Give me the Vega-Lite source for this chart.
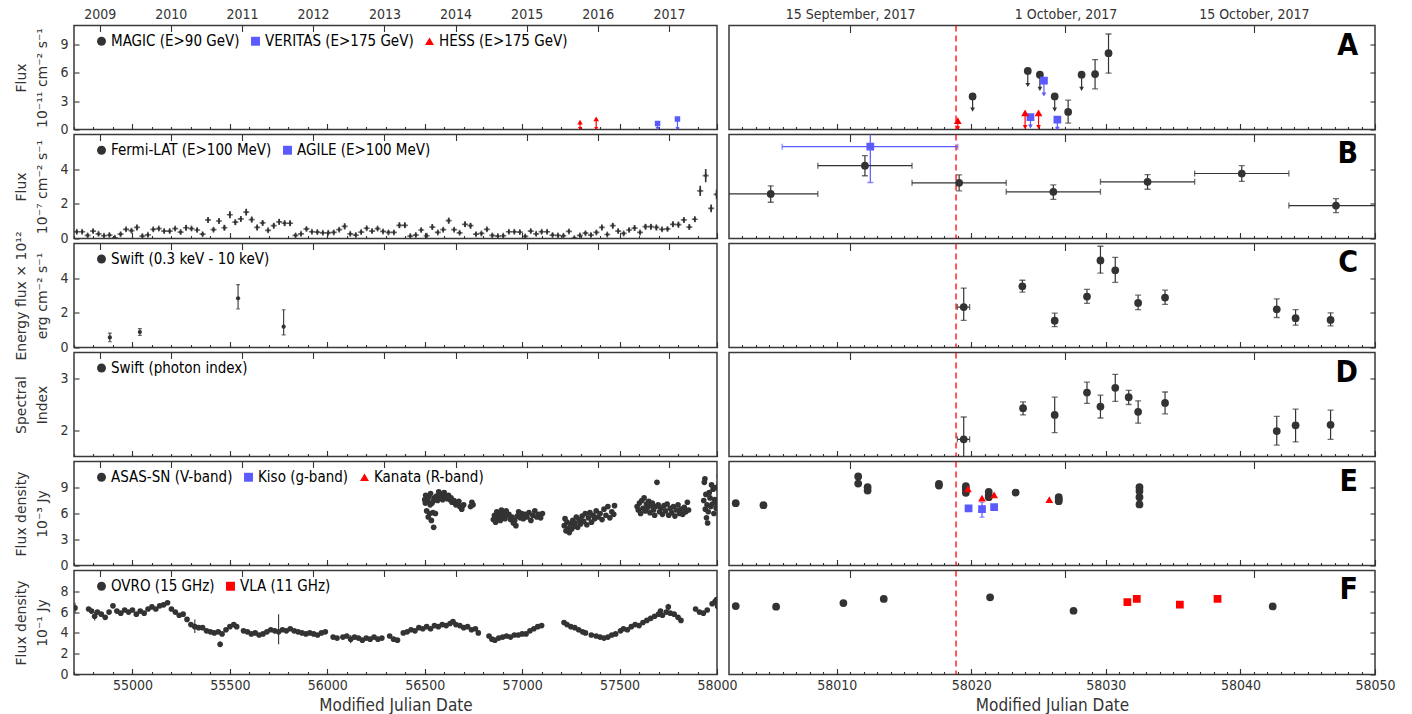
{
"$schema":"https://vega.github.io/schema/vega-lite/v6.json",
"padding":{"left":13,"top":6.5,"right":5,"bottom":3},
"background":"white",
"config":{
 "view":{"stroke":"#3a3a3a","strokeWidth":1.5},
 "axis":{"domain":false,"grid":false,"tickColor":"#333333","tickWidth":1.1,"labelColor":"#333333","labelFont":"DejaVu Sans Condensed","labelFontSize":14,"titleColor":"#333333","titleFont":"DejaVu Sans","titleFontSize":14,"titleFontWeight":"normal","labelFlush":false,"titleLineHeight":21},
 "axisX":{"titleFont":"DejaVu Sans Condensed","titleFontSize":17},
 "legend":{"labelFont":"DejaVu Sans Condensed","labelFontSize":15,"labelLimit":0}
},
"datasets":{
"nu":[{"t":58018.87}],
"A":[
{"s":"MAGIC (E>90 GeV)","t":58020.1,"f":3.5,"lo":2.1,"hi":3.5,"k":"u"},
{"s":"MAGIC (E>90 GeV)","t":58024.2,"f":6.2,"lo":4.7,"hi":6.2,"k":"u"},
{"s":"MAGIC (E>90 GeV)","t":58025.1,"f":5.8,"lo":4.3,"hi":5.8,"k":"u"},
{"s":"MAGIC (E>90 GeV)","t":58026.2,"f":3.5,"lo":2.1,"hi":3.5,"k":"u"},
{"s":"MAGIC (E>90 GeV)","t":58027.2,"f":1.86,"lo":0.68,"hi":3.1,"k":"d"},
{"s":"MAGIC (E>90 GeV)","t":58028.2,"f":5.8,"lo":4.3,"hi":5.8,"k":"u"},
{"s":"MAGIC (E>90 GeV)","t":58029.2,"f":5.86,"lo":4.3,"hi":7.4,"k":"d"},
{"s":"MAGIC (E>90 GeV)","t":58030.2,"f":8.07,"lo":5.96,"hi":10.1,"k":"d"},
{"s":"VERITAS (E>175 GeV)","t":57695,"f":0.64,"lo":0.08,"hi":0.64,"k":"u"},
{"s":"VERITAS (E>175 GeV)","t":57797,"f":1.1,"lo":0.08,"hi":1.1,"k":"u"},
{"s":"VERITAS (E>175 GeV)","t":58024.4,"f":1.32,"lo":0.32,"hi":1.32,"k":"u"},
{"s":"VERITAS (E>175 GeV)","t":58025.4,"f":5.18,"lo":3.7,"hi":5.18,"k":"u"},
{"s":"VERITAS (E>175 GeV)","t":58026.4,"f":1.04,"lo":0.08,"hi":1.04,"k":"u"},
{"s":"HESS (E>175 GeV)","t":57297,"f":0.78,"lo":0.08,"hi":0.78,"k":"u"},
{"s":"HESS (E>175 GeV)","t":57380,"f":1.13,"lo":0.08,"hi":1.13,"k":"u"},
{"s":"HESS (E>175 GeV)","t":58019.0,"f":0.93,"lo":0.14,"hi":0.93,"k":"u"},
{"s":"HESS (E>175 GeV)","t":58024.0,"f":1.75,"lo":0.25,"hi":1.75,"k":"u"},
{"s":"HESS (E>175 GeV)","t":58025.0,"f":1.75,"lo":0.25,"hi":1.75,"k":"u"}
],
"B":[
{"s":"Fermi-LAT (E>100 MeV)","t":54714,"f":0.39,"lo":0.27,"hi":0.51},
{"s":"Fermi-LAT (E>100 MeV)","t":54742,"f":0.39,"lo":0.27,"hi":0.51},
{"s":"Fermi-LAT (E>100 MeV)","t":54770,"f":0.18,"lo":0.06,"hi":0.30},
{"s":"Fermi-LAT (E>100 MeV)","t":54798,"f":0.43,"lo":0.31,"hi":0.55},
{"s":"Fermi-LAT (E>100 MeV)","t":54826,"f":0.27,"lo":0.15,"hi":0.39},
{"s":"Fermi-LAT (E>100 MeV)","t":54854,"f":0.16,"lo":0.04,"hi":0.28},
{"s":"Fermi-LAT (E>100 MeV)","t":54882,"f":0.20,"lo":0.08,"hi":0.32},
{"s":"Fermi-LAT (E>100 MeV)","t":54910,"f":0.04,"lo":0.0,"hi":0.16},
{"s":"Fermi-LAT (E>100 MeV)","t":54939,"f":0.25,"lo":0.13,"hi":0.37},
{"s":"Fermi-LAT (E>100 MeV)","t":54967,"f":0.53,"lo":0.41,"hi":0.65},
{"s":"Fermi-LAT (E>100 MeV)","t":54995,"f":0.45,"lo":0.33,"hi":0.57},
{"s":"Fermi-LAT (E>100 MeV)","t":55023,"f":0.64,"lo":0.48,"hi":0.80},
{"s":"Fermi-LAT (E>100 MeV)","t":55051,"f":0.14,"lo":0.02,"hi":0.26},
{"s":"Fermi-LAT (E>100 MeV)","t":55079,"f":0.21,"lo":0.09,"hi":0.33},
{"s":"Fermi-LAT (E>100 MeV)","t":55107,"f":0.53,"lo":0.41,"hi":0.65},
{"s":"Fermi-LAT (E>100 MeV)","t":55135,"f":0.57,"lo":0.45,"hi":0.69},
{"s":"Fermi-LAT (E>100 MeV)","t":55163,"f":0.43,"lo":0.31,"hi":0.55},
{"s":"Fermi-LAT (E>100 MeV)","t":55191,"f":0.43,"lo":0.31,"hi":0.55},
{"s":"Fermi-LAT (E>100 MeV)","t":55219,"f":0.57,"lo":0.45,"hi":0.69},
{"s":"Fermi-LAT (E>100 MeV)","t":55247,"f":0.37,"lo":0.25,"hi":0.49},
{"s":"Fermi-LAT (E>100 MeV)","t":55275,"f":0.62,"lo":0.46,"hi":0.78},
{"s":"Fermi-LAT (E>100 MeV)","t":55303,"f":0.57,"lo":0.45,"hi":0.69},
{"s":"Fermi-LAT (E>100 MeV)","t":55332,"f":0.49,"lo":0.37,"hi":0.61},
{"s":"Fermi-LAT (E>100 MeV)","t":55360,"f":0.25,"lo":0.13,"hi":0.37},
{"s":"Fermi-LAT (E>100 MeV)","t":55388,"f":1.07,"lo":0.91,"hi":1.23},
{"s":"Fermi-LAT (E>100 MeV)","t":55416,"f":0.51,"lo":0.39,"hi":0.63},
{"s":"Fermi-LAT (E>100 MeV)","t":55444,"f":1.01,"lo":0.85,"hi":1.17},
{"s":"Fermi-LAT (E>100 MeV)","t":55472,"f":0.62,"lo":0.46,"hi":0.78},
{"s":"Fermi-LAT (E>100 MeV)","t":55500,"f":1.37,"lo":1.17,"hi":1.57},
{"s":"Fermi-LAT (E>100 MeV)","t":55528,"f":0.94,"lo":0.78,"hi":1.10},
{"s":"Fermi-LAT (E>100 MeV)","t":55556,"f":1.13,"lo":0.97,"hi":1.29},
{"s":"Fermi-LAT (E>100 MeV)","t":55584,"f":1.52,"lo":1.32,"hi":1.72},
{"s":"Fermi-LAT (E>100 MeV)","t":55612,"f":1.09,"lo":0.93,"hi":1.25},
{"s":"Fermi-LAT (E>100 MeV)","t":55640,"f":0.64,"lo":0.48,"hi":0.80},
{"s":"Fermi-LAT (E>100 MeV)","t":55668,"f":0.90,"lo":0.74,"hi":1.06},
{"s":"Fermi-LAT (E>100 MeV)","t":55696,"f":0.47,"lo":0.35,"hi":0.59},
{"s":"Fermi-LAT (E>100 MeV)","t":55725,"f":0.74,"lo":0.58,"hi":0.90},
{"s":"Fermi-LAT (E>100 MeV)","t":55753,"f":0.96,"lo":0.80,"hi":1.12},
{"s":"Fermi-LAT (E>100 MeV)","t":55781,"f":0.88,"lo":0.72,"hi":1.04},
{"s":"Fermi-LAT (E>100 MeV)","t":55809,"f":0.88,"lo":0.72,"hi":1.04},
{"s":"Fermi-LAT (E>100 MeV)","t":55837,"f":0.18,"lo":0.06,"hi":0.30},
{"s":"Fermi-LAT (E>100 MeV)","t":55865,"f":0.27,"lo":0.15,"hi":0.39},
{"s":"Fermi-LAT (E>100 MeV)","t":55893,"f":0.55,"lo":0.43,"hi":0.67},
{"s":"Fermi-LAT (E>100 MeV)","t":55921,"f":0.39,"lo":0.27,"hi":0.51},
{"s":"Fermi-LAT (E>100 MeV)","t":55949,"f":0.37,"lo":0.25,"hi":0.49},
{"s":"Fermi-LAT (E>100 MeV)","t":55977,"f":0.33,"lo":0.21,"hi":0.45},
{"s":"Fermi-LAT (E>100 MeV)","t":56005,"f":0.33,"lo":0.21,"hi":0.45},
{"s":"Fermi-LAT (E>100 MeV)","t":56033,"f":0.35,"lo":0.23,"hi":0.47},
{"s":"Fermi-LAT (E>100 MeV)","t":56061,"f":0.51,"lo":0.39,"hi":0.63},
{"s":"Fermi-LAT (E>100 MeV)","t":56089,"f":0.70,"lo":0.54,"hi":0.86},
{"s":"Fermi-LAT (E>100 MeV)","t":56118,"f":0.27,"lo":0.15,"hi":0.39},
{"s":"Fermi-LAT (E>100 MeV)","t":56146,"f":0.20,"lo":0.08,"hi":0.32},
{"s":"Fermi-LAT (E>100 MeV)","t":56174,"f":0.37,"lo":0.25,"hi":0.49},
{"s":"Fermi-LAT (E>100 MeV)","t":56202,"f":0.59,"lo":0.47,"hi":0.71},
{"s":"Fermi-LAT (E>100 MeV)","t":56230,"f":0.43,"lo":0.31,"hi":0.55},
{"s":"Fermi-LAT (E>100 MeV)","t":56258,"f":0.57,"lo":0.45,"hi":0.69},
{"s":"Fermi-LAT (E>100 MeV)","t":56286,"f":0.41,"lo":0.29,"hi":0.53},
{"s":"Fermi-LAT (E>100 MeV)","t":56314,"f":0.35,"lo":0.23,"hi":0.47},
{"s":"Fermi-LAT (E>100 MeV)","t":56342,"f":0.35,"lo":0.23,"hi":0.47},
{"s":"Fermi-LAT (E>100 MeV)","t":56370,"f":0.76,"lo":0.60,"hi":0.92},
{"s":"Fermi-LAT (E>100 MeV)","t":56398,"f":0.76,"lo":0.60,"hi":0.92},
{"s":"Fermi-LAT (E>100 MeV)","t":56426,"f":0.14,"lo":0.02,"hi":0.26},
{"s":"Fermi-LAT (E>100 MeV)","t":56454,"f":0.20,"lo":0.08,"hi":0.32},
{"s":"Fermi-LAT (E>100 MeV)","t":56482,"f":0.49,"lo":0.37,"hi":0.61},
{"s":"Fermi-LAT (E>100 MeV)","t":56510,"f":0.16,"lo":0.04,"hi":0.28},
{"s":"Fermi-LAT (E>100 MeV)","t":56539,"f":0.66,"lo":0.50,"hi":0.82},
{"s":"Fermi-LAT (E>100 MeV)","t":56567,"f":0.35,"lo":0.23,"hi":0.47},
{"s":"Fermi-LAT (E>100 MeV)","t":56595,"f":0.51,"lo":0.39,"hi":0.63},
{"s":"Fermi-LAT (E>100 MeV)","t":56623,"f":1.03,"lo":0.87,"hi":1.19},
{"s":"Fermi-LAT (E>100 MeV)","t":56651,"f":0.51,"lo":0.39,"hi":0.63},
{"s":"Fermi-LAT (E>100 MeV)","t":56679,"f":0.33,"lo":0.21,"hi":0.45},
{"s":"Fermi-LAT (E>100 MeV)","t":56707,"f":0.82,"lo":0.66,"hi":0.98},
{"s":"Fermi-LAT (E>100 MeV)","t":56735,"f":0.74,"lo":0.58,"hi":0.90},
{"s":"Fermi-LAT (E>100 MeV)","t":56763,"f":0.25,"lo":0.13,"hi":0.37},
{"s":"Fermi-LAT (E>100 MeV)","t":56791,"f":0.29,"lo":0.17,"hi":0.41},
{"s":"Fermi-LAT (E>100 MeV)","t":56819,"f":0.53,"lo":0.41,"hi":0.65},
{"s":"Fermi-LAT (E>100 MeV)","t":56847,"f":0.18,"lo":0.06,"hi":0.30},
{"s":"Fermi-LAT (E>100 MeV)","t":56875,"f":0.14,"lo":0.02,"hi":0.26},
{"s":"Fermi-LAT (E>100 MeV)","t":56903,"f":0.16,"lo":0.04,"hi":0.28},
{"s":"Fermi-LAT (E>100 MeV)","t":56932,"f":0.39,"lo":0.27,"hi":0.51},
{"s":"Fermi-LAT (E>100 MeV)","t":56960,"f":0.39,"lo":0.27,"hi":0.51},
{"s":"Fermi-LAT (E>100 MeV)","t":56988,"f":0.37,"lo":0.25,"hi":0.49},
{"s":"Fermi-LAT (E>100 MeV)","t":57016,"f":0.12,"lo":0.0,"hi":0.24},
{"s":"Fermi-LAT (E>100 MeV)","t":57044,"f":0.43,"lo":0.31,"hi":0.55},
{"s":"Fermi-LAT (E>100 MeV)","t":57072,"f":0.27,"lo":0.15,"hi":0.39},
{"s":"Fermi-LAT (E>100 MeV)","t":57100,"f":0.39,"lo":0.27,"hi":0.51},
{"s":"Fermi-LAT (E>100 MeV)","t":57128,"f":0.39,"lo":0.27,"hi":0.51},
{"s":"Fermi-LAT (E>100 MeV)","t":57156,"f":0.20,"lo":0.08,"hi":0.32},
{"s":"Fermi-LAT (E>100 MeV)","t":57184,"f":0.18,"lo":0.06,"hi":0.30},
{"s":"Fermi-LAT (E>100 MeV)","t":57212,"f":0.16,"lo":0.04,"hi":0.28},
{"s":"Fermi-LAT (E>100 MeV)","t":57240,"f":0.41,"lo":0.29,"hi":0.53},
{"s":"Fermi-LAT (E>100 MeV)","t":57268,"f":0.02,"lo":0.0,"hi":0.14},
{"s":"Fermi-LAT (E>100 MeV)","t":57296,"f":0.18,"lo":0.06,"hi":0.30},
{"s":"Fermi-LAT (E>100 MeV)","t":57325,"f":0.31,"lo":0.19,"hi":0.43},
{"s":"Fermi-LAT (E>100 MeV)","t":57353,"f":0.20,"lo":0.08,"hi":0.32},
{"s":"Fermi-LAT (E>100 MeV)","t":57381,"f":0.35,"lo":0.23,"hi":0.47},
{"s":"Fermi-LAT (E>100 MeV)","t":57409,"f":0.64,"lo":0.48,"hi":0.80},
{"s":"Fermi-LAT (E>100 MeV)","t":57437,"f":0.23,"lo":0.11,"hi":0.35},
{"s":"Fermi-LAT (E>100 MeV)","t":57465,"f":0.74,"lo":0.58,"hi":0.90},
{"s":"Fermi-LAT (E>100 MeV)","t":57493,"f":0.43,"lo":0.31,"hi":0.55},
{"s":"Fermi-LAT (E>100 MeV)","t":57521,"f":0.29,"lo":0.17,"hi":0.41},
{"s":"Fermi-LAT (E>100 MeV)","t":57549,"f":0.49,"lo":0.37,"hi":0.61},
{"s":"Fermi-LAT (E>100 MeV)","t":57577,"f":0.60,"lo":0.44,"hi":0.76},
{"s":"Fermi-LAT (E>100 MeV)","t":57605,"f":0.35,"lo":0.23,"hi":0.47},
{"s":"Fermi-LAT (E>100 MeV)","t":57633,"f":0.68,"lo":0.52,"hi":0.84},
{"s":"Fermi-LAT (E>100 MeV)","t":57661,"f":0.68,"lo":0.52,"hi":0.84},
{"s":"Fermi-LAT (E>100 MeV)","t":57689,"f":0.64,"lo":0.48,"hi":0.80},
{"s":"Fermi-LAT (E>100 MeV)","t":57718,"f":0.53,"lo":0.41,"hi":0.65},
{"s":"Fermi-LAT (E>100 MeV)","t":57746,"f":0.55,"lo":0.43,"hi":0.67},
{"s":"Fermi-LAT (E>100 MeV)","t":57774,"f":0.82,"lo":0.66,"hi":0.98},
{"s":"Fermi-LAT (E>100 MeV)","t":57802,"f":0.80,"lo":0.64,"hi":0.96},
{"s":"Fermi-LAT (E>100 MeV)","t":57830,"f":1.07,"lo":0.91,"hi":1.23},
{"s":"Fermi-LAT (E>100 MeV)","t":57858,"f":0.66,"lo":0.50,"hi":0.82},
{"s":"Fermi-LAT (E>100 MeV)","t":57886,"f":1.11,"lo":0.95,"hi":1.27},
{"s":"Fermi-LAT (E>100 MeV)","t":57914,"f":2.75,"lo":2.45,"hi":3.05},
{"s":"Fermi-LAT (E>100 MeV)","t":57942,"f":3.63,"lo":3.25,"hi":4.01},
{"s":"Fermi-LAT (E>100 MeV)","t":57970,"f":1.74,"lo":1.52,"hi":1.96},
{"s":"Fermi-LAT (E>100 MeV)","t":57998,"f":2.54,"lo":2.26,"hi":2.82},
{"s":"Fermi-LAT (E>100 MeV)","t":58005.1,"f":2.57,"lo":2.09,"hi":3.04,"t0":58001.6,"t1":58008.6},
{"s":"Fermi-LAT (E>100 MeV)","t":58012.1,"f":4.2,"lo":3.62,"hi":4.78,"t0":58008.6,"t1":58015.6},
{"s":"Fermi-LAT (E>100 MeV)","t":58019.1,"f":3.21,"lo":2.75,"hi":3.67,"t0":58015.6,"t1":58022.6},
{"s":"Fermi-LAT (E>100 MeV)","t":58026.1,"f":2.69,"lo":2.26,"hi":3.09,"t0":58022.6,"t1":58029.6},
{"s":"Fermi-LAT (E>100 MeV)","t":58033.1,"f":3.27,"lo":2.84,"hi":3.69,"t0":58029.6,"t1":58036.6},
{"s":"Fermi-LAT (E>100 MeV)","t":58040.1,"f":3.75,"lo":3.29,"hi":4.2,"t0":58036.6,"t1":58043.6},
{"s":"Fermi-LAT (E>100 MeV)","t":58047.1,"f":1.9,"lo":1.49,"hi":2.3,"t0":58043.6,"t1":58050.6},
{"s":"AGILE (E>100 MeV)","t":58012.5,"f":5.3,"lo":3.23,"hi":6.05,"t0":58005.95,"t1":58019.0}
],
"C":[
{"s":"Swift (0.3 keV - 10 keV)","t":54884,"f":0.58,"lo":0.33,"hi":0.83},
{"s":"Swift (0.3 keV - 10 keV)","t":55038,"f":0.89,"lo":0.69,"hi":1.09},
{"s":"Swift (0.3 keV - 10 keV)","t":55542,"f":2.84,"lo":2.22,"hi":3.63},
{"s":"Swift (0.3 keV - 10 keV)","t":55776,"f":1.2,"lo":0.73,"hi":2.18},
{"s":"Swift (0.3 keV - 10 keV)","t":58019.44,"f":2.33,"lo":1.57,"hi":3.43,"t0":58018.97,"t1":58019.88},
{"s":"Swift (0.3 keV - 10 keV)","t":58023.8,"f":3.53,"lo":3.2,"hi":3.88},
{"s":"Swift (0.3 keV - 10 keV)","t":58026.2,"f":1.55,"lo":1.2,"hi":1.98},
{"s":"Swift (0.3 keV - 10 keV)","t":58028.6,"f":2.94,"lo":2.55,"hi":3.35},
{"s":"Swift (0.3 keV - 10 keV)","t":58029.6,"f":5.02,"lo":4.29,"hi":5.84},
{"s":"Swift (0.3 keV - 10 keV)","t":58030.7,"f":4.45,"lo":3.76,"hi":5.2},
{"s":"Swift (0.3 keV - 10 keV)","t":58032.4,"f":2.57,"lo":2.18,"hi":3.02},
{"s":"Swift (0.3 keV - 10 keV)","t":58034.4,"f":2.88,"lo":2.49,"hi":3.31},
{"s":"Swift (0.3 keV - 10 keV)","t":58042.7,"f":2.2,"lo":1.73,"hi":2.8},
{"s":"Swift (0.3 keV - 10 keV)","t":58044.1,"f":1.69,"lo":1.29,"hi":2.18},
{"s":"Swift (0.3 keV - 10 keV)","t":58046.7,"f":1.59,"lo":1.25,"hi":2.0}
],
"D":[
{"s":"Swift (photon index)","t":58019.44,"f":1.83,"lo":1.49,"hi":2.26,"t0":58018.97,"t1":58019.88},
{"s":"Swift (photon index)","t":58023.85,"f":2.43,"lo":2.3,"hi":2.55},
{"s":"Swift (photon index)","t":58026.2,"f":2.3,"lo":1.96,"hi":2.64},
{"s":"Swift (photon index)","t":58028.6,"f":2.73,"lo":2.52,"hi":2.93},
{"s":"Swift (photon index)","t":58029.6,"f":2.46,"lo":2.24,"hi":2.68},
{"s":"Swift (photon index)","t":58030.7,"f":2.82,"lo":2.56,"hi":3.08},
{"s":"Swift (photon index)","t":58031.7,"f":2.64,"lo":2.5,"hi":2.77},
{"s":"Swift (photon index)","t":58032.4,"f":2.36,"lo":2.14,"hi":2.57},
{"s":"Swift (photon index)","t":58034.4,"f":2.53,"lo":2.32,"hi":2.74},
{"s":"Swift (photon index)","t":58042.7,"f":1.99,"lo":1.72,"hi":2.27},
{"s":"Swift (photon index)","t":58044.1,"f":2.1,"lo":1.78,"hi":2.41},
{"s":"Swift (photon index)","t":58046.7,"f":2.11,"lo":1.83,"hi":2.39}
],
"E":[
{"s":"ASAS-SN (V-band)","t":56500,"f":7.6},{"s":"ASAS-SN (V-band)","t":56503,"f":7.2},{"s":"ASAS-SN (V-band)","t":56505,"f":8.1},{"s":"ASAS-SN (V-band)","t":56510,"f":6.3},{"s":"ASAS-SN (V-band)","t":56512,"f":7.9},{"s":"ASAS-SN (V-band)","t":56515,"f":7.4},{"s":"ASAS-SN (V-band)","t":56518,"f":5.6},{"s":"ASAS-SN (V-band)","t":56522,"f":7.9},{"s":"ASAS-SN (V-band)","t":56525,"f":6.0},{"s":"ASAS-SN (V-band)","t":56528,"f":7.0},{"s":"ASAS-SN (V-band)","t":56530,"f":8.3},{"s":"ASAS-SN (V-band)","t":56534,"f":5.2},{"s":"ASAS-SN (V-band)","t":56538,"f":7.2},{"s":"ASAS-SN (V-band)","t":56542,"f":6.1},{"s":"ASAS-SN (V-band)","t":56545,"f":7.5},{"s":"ASAS-SN (V-band)","t":56546,"f":4.4},{"s":"ASAS-SN (V-band)","t":56550,"f":7.8},{"s":"ASAS-SN (V-band)","t":56555,"f":6.0},{"s":"ASAS-SN (V-band)","t":56560,"f":8.0},{"s":"ASAS-SN (V-band)","t":56566,"f":7.5},{"s":"ASAS-SN (V-band)","t":56572,"f":8.5},{"s":"ASAS-SN (V-band)","t":56575,"f":8.0},{"s":"ASAS-SN (V-band)","t":56578,"f":7.8},{"s":"ASAS-SN (V-band)","t":56585,"f":8.2},{"s":"ASAS-SN (V-band)","t":56592,"f":7.6},{"s":"ASAS-SN (V-band)","t":56595,"f":8.3},{"s":"ASAS-SN (V-band)","t":56600,"f":8.4},{"s":"ASAS-SN (V-band)","t":56608,"f":8.0},{"s":"ASAS-SN (V-band)","t":56612,"f":7.9},{"s":"ASAS-SN (V-band)","t":56615,"f":7.7},{"s":"ASAS-SN (V-band)","t":56622,"f":8.1},{"s":"ASAS-SN (V-band)","t":56630,"f":7.6},{"s":"ASAS-SN (V-band)","t":56635,"f":7.8},{"s":"ASAS-SN (V-band)","t":56640,"f":7.3},{"s":"ASAS-SN (V-band)","t":56650,"f":7.5},{"s":"ASAS-SN (V-band)","t":56655,"f":7.2},{"s":"ASAS-SN (V-band)","t":56660,"f":7.0},{"s":"ASAS-SN (V-band)","t":56670,"f":7.2},{"s":"ASAS-SN (V-band)","t":56675,"f":7.4},{"s":"ASAS-SN (V-band)","t":56680,"f":6.8},{"s":"ASAS-SN (V-band)","t":56690,"f":6.5},{"s":"ASAS-SN (V-band)","t":56695,"f":6.9},{"s":"ASAS-SN (V-band)","t":56700,"f":7.0},{"s":"ASAS-SN (V-band)","t":56735,"f":6.8},{"s":"ASAS-SN (V-band)","t":56742,"f":7.3},{"s":"ASAS-SN (V-band)","t":56748,"f":7.0},
{"s":"ASAS-SN (V-band)","t":56852,"f":5.3},{"s":"ASAS-SN (V-band)","t":56858,"f":5.8},{"s":"ASAS-SN (V-band)","t":56864,"f":5.0},{"s":"ASAS-SN (V-band)","t":56870,"f":6.2},{"s":"ASAS-SN (V-band)","t":56876,"f":5.5},{"s":"ASAS-SN (V-band)","t":56882,"f":6.0},{"s":"ASAS-SN (V-band)","t":56888,"f":5.2},{"s":"ASAS-SN (V-band)","t":56894,"f":6.4},{"s":"ASAS-SN (V-band)","t":56900,"f":5.7},{"s":"ASAS-SN (V-band)","t":56906,"f":6.1},{"s":"ASAS-SN (V-band)","t":56912,"f":5.4},{"s":"ASAS-SN (V-band)","t":56918,"f":6.3},{"s":"ASAS-SN (V-band)","t":56925,"f":5.8},{"s":"ASAS-SN (V-band)","t":56932,"f":5.9},{"s":"ASAS-SN (V-band)","t":56940,"f":5.3},{"s":"ASAS-SN (V-band)","t":56948,"f":5.6},{"s":"ASAS-SN (V-band)","t":56955,"f":4.9},{"s":"ASAS-SN (V-band)","t":56962,"f":5.2},{"s":"ASAS-SN (V-band)","t":56968,"f":4.6},{"s":"ASAS-SN (V-band)","t":56975,"f":5.7},{"s":"ASAS-SN (V-band)","t":56982,"f":6.2},{"s":"ASAS-SN (V-band)","t":56990,"f":5.5},{"s":"ASAS-SN (V-band)","t":56998,"f":6.0},{"s":"ASAS-SN (V-band)","t":57006,"f":5.4},{"s":"ASAS-SN (V-band)","t":57015,"f":5.9},{"s":"ASAS-SN (V-band)","t":57025,"f":5.6},{"s":"ASAS-SN (V-band)","t":57035,"f":6.1},{"s":"ASAS-SN (V-band)","t":57045,"f":5.2},{"s":"ASAS-SN (V-band)","t":57055,"f":5.8},{"s":"ASAS-SN (V-band)","t":57065,"f":6.3},{"s":"ASAS-SN (V-band)","t":57075,"f":5.6},{"s":"ASAS-SN (V-band)","t":57085,"f":5.9},{"s":"ASAS-SN (V-band)","t":57095,"f":5.5},{"s":"ASAS-SN (V-band)","t":57104,"f":6.0},
{"s":"ASAS-SN (V-band)","t":57216,"f":4.6},{"s":"ASAS-SN (V-band)","t":57220,"f":5.4},{"s":"ASAS-SN (V-band)","t":57225,"f":4.0},{"s":"ASAS-SN (V-band)","t":57230,"f":5.0},{"s":"ASAS-SN (V-band)","t":57236,"f":4.3},{"s":"ASAS-SN (V-band)","t":57242,"f":3.8},{"s":"ASAS-SN (V-band)","t":57248,"f":4.8},{"s":"ASAS-SN (V-band)","t":57254,"f":4.2},{"s":"ASAS-SN (V-band)","t":57260,"f":5.2},{"s":"ASAS-SN (V-band)","t":57266,"f":4.5},{"s":"ASAS-SN (V-band)","t":57272,"f":4.9},{"s":"ASAS-SN (V-band)","t":57278,"f":5.6},{"s":"ASAS-SN (V-band)","t":57285,"f":4.4},{"s":"ASAS-SN (V-band)","t":57292,"f":5.3},{"s":"ASAS-SN (V-band)","t":57300,"f":4.8},{"s":"ASAS-SN (V-band)","t":57308,"f":5.7},{"s":"ASAS-SN (V-band)","t":57316,"f":5.1},{"s":"ASAS-SN (V-band)","t":57324,"f":6.0},{"s":"ASAS-SN (V-band)","t":57332,"f":4.7},{"s":"ASAS-SN (V-band)","t":57340,"f":5.5},{"s":"ASAS-SN (V-band)","t":57348,"f":6.1},{"s":"ASAS-SN (V-band)","t":57356,"f":5.0},{"s":"ASAS-SN (V-band)","t":57364,"f":5.8},{"s":"ASAS-SN (V-band)","t":57372,"f":5.4},{"s":"ASAS-SN (V-band)","t":57380,"f":6.3},{"s":"ASAS-SN (V-band)","t":57390,"f":5.6},{"s":"ASAS-SN (V-band)","t":57400,"f":6.0},{"s":"ASAS-SN (V-band)","t":57410,"f":5.3},{"s":"ASAS-SN (V-band)","t":57420,"f":6.5},{"s":"ASAS-SN (V-band)","t":57430,"f":5.8},{"s":"ASAS-SN (V-band)","t":57440,"f":6.8},{"s":"ASAS-SN (V-band)","t":57450,"f":5.5},{"s":"ASAS-SN (V-band)","t":57460,"f":6.2},{"s":"ASAS-SN (V-band)","t":57470,"f":5.9},{"s":"ASAS-SN (V-band)","t":57474,"f":6.9},
{"s":"ASAS-SN (V-band)","t":57590,"f":6.8},{"s":"ASAS-SN (V-band)","t":57596,"f":6.4},{"s":"ASAS-SN (V-band)","t":57602,"f":7.2},{"s":"ASAS-SN (V-band)","t":57608,"f":6.0},{"s":"ASAS-SN (V-band)","t":57614,"f":7.5},{"s":"ASAS-SN (V-band)","t":57620,"f":6.6},{"s":"ASAS-SN (V-band)","t":57626,"f":7.8},{"s":"ASAS-SN (V-band)","t":57632,"f":6.3},{"s":"ASAS-SN (V-band)","t":57638,"f":7.1},{"s":"ASAS-SN (V-band)","t":57644,"f":6.7},{"s":"ASAS-SN (V-band)","t":57650,"f":7.4},{"s":"ASAS-SN (V-band)","t":57656,"f":6.1},{"s":"ASAS-SN (V-band)","t":57662,"f":6.9},{"s":"ASAS-SN (V-band)","t":57668,"f":7.2},{"s":"ASAS-SN (V-band)","t":57674,"f":6.4},{"s":"ASAS-SN (V-band)","t":57680,"f":5.8},{"s":"ASAS-SN (V-band)","t":57686,"f":6.8},{"s":"ASAS-SN (V-band)","t":57692,"f":9.6},{"s":"ASAS-SN (V-band)","t":57698,"f":7.0},{"s":"ASAS-SN (V-band)","t":57705,"f":6.2},{"s":"ASAS-SN (V-band)","t":57712,"f":6.6},{"s":"ASAS-SN (V-band)","t":57720,"f":5.9},{"s":"ASAS-SN (V-band)","t":57728,"f":6.9},{"s":"ASAS-SN (V-band)","t":57736,"f":6.3},{"s":"ASAS-SN (V-band)","t":57744,"f":7.1},{"s":"ASAS-SN (V-band)","t":57752,"f":5.8},{"s":"ASAS-SN (V-band)","t":57760,"f":6.6},{"s":"ASAS-SN (V-band)","t":57768,"f":6.1},{"s":"ASAS-SN (V-band)","t":57776,"f":6.8},{"s":"ASAS-SN (V-band)","t":57784,"f":5.7},{"s":"ASAS-SN (V-band)","t":57792,"f":6.4},{"s":"ASAS-SN (V-band)","t":57800,"f":7.0},{"s":"ASAS-SN (V-band)","t":57808,"f":6.0},{"s":"ASAS-SN (V-band)","t":57816,"f":6.5},{"s":"ASAS-SN (V-band)","t":57824,"f":5.9},{"s":"ASAS-SN (V-band)","t":57832,"f":6.7},{"s":"ASAS-SN (V-band)","t":57840,"f":6.2},{"s":"ASAS-SN (V-band)","t":57848,"f":7.3},{"s":"ASAS-SN (V-band)","t":57854,"f":6.4},
{"s":"ASAS-SN (V-band)","t":57932,"f":7.5},{"s":"ASAS-SN (V-band)","t":57935,"f":9.6},{"s":"ASAS-SN (V-band)","t":57938,"f":10.0},{"s":"ASAS-SN (V-band)","t":57940,"f":6.5},{"s":"ASAS-SN (V-band)","t":57943,"f":8.2},{"s":"ASAS-SN (V-band)","t":57946,"f":5.5},{"s":"ASAS-SN (V-band)","t":57949,"f":7.0},{"s":"ASAS-SN (V-band)","t":57952,"f":4.9},{"s":"ASAS-SN (V-band)","t":57955,"f":6.2},{"s":"ASAS-SN (V-band)","t":57960,"f":8.4},{"s":"ASAS-SN (V-band)","t":57964,"f":7.8},{"s":"ASAS-SN (V-band)","t":57968,"f":6.8},{"s":"ASAS-SN (V-band)","t":57972,"f":9.3},{"s":"ASAS-SN (V-band)","t":57976,"f":7.1},{"s":"ASAS-SN (V-band)","t":57980,"f":8.8},{"s":"ASAS-SN (V-band)","t":57984,"f":6.0},{"s":"ASAS-SN (V-band)","t":57988,"f":7.6},{"s":"ASAS-SN (V-band)","t":57992,"f":9.0},{"s":"ASAS-SN (V-band)","t":57996,"f":6.6},{"s":"ASAS-SN (V-band)","t":57999,"f":7.3},
{"s":"ASAS-SN (V-band)","t":58002.5,"f":7.19},{"s":"ASAS-SN (V-band)","t":58004.56,"f":6.96},{"s":"ASAS-SN (V-band)","t":58011.6,"f":10.27},{"s":"ASAS-SN (V-band)","t":58011.6,"f":9.46},{"s":"ASAS-SN (V-band)","t":58012.3,"f":9.04},{"s":"ASAS-SN (V-band)","t":58012.3,"f":8.65},{"s":"ASAS-SN (V-band)","t":58017.6,"f":9.42},{"s":"ASAS-SN (V-band)","t":58017.6,"f":9.23},{"s":"ASAS-SN (V-band)","t":58019.6,"f":9.15},{"s":"ASAS-SN (V-band)","t":58019.6,"f":8.8},{"s":"ASAS-SN (V-band)","t":58019.6,"f":8.38},{"s":"ASAS-SN (V-band)","t":58021.3,"f":8.5},{"s":"ASAS-SN (V-band)","t":58021.3,"f":8.08},{"s":"ASAS-SN (V-band)","t":58021.3,"f":7.88},{"s":"ASAS-SN (V-band)","t":58023.3,"f":8.42},{"s":"ASAS-SN (V-band)","t":58026.5,"f":7.88},{"s":"ASAS-SN (V-band)","t":58026.5,"f":7.62},{"s":"ASAS-SN (V-band)","t":58026.5,"f":7.42},{"s":"ASAS-SN (V-band)","t":58032.5,"f":9.04},{"s":"ASAS-SN (V-band)","t":58032.5,"f":8.6},{"s":"ASAS-SN (V-band)","t":58032.5,"f":7.88},{"s":"ASAS-SN (V-band)","t":58032.5,"f":7.04},
{"s":"Kiso (g-band)","t":58019.8,"f":6.6},{"s":"Kiso (g-band)","t":58020.8,"f":6.5,"lo":5.58,"hi":7.3},{"s":"Kiso (g-band)","t":58021.7,"f":6.73},
{"s":"Kanata (R-band)","t":58019.75,"f":8.85},{"s":"Kanata (R-band)","t":58020.8,"f":7.77},{"s":"Kanata (R-band)","t":58021.7,"f":8.15},{"s":"Kanata (R-band)","t":58025.8,"f":7.6}
],
"F":[
{"s":"OVRO (15 GHz)","t":54705,"f":6.4,"lo":5.9,"hi":6.9},{"s":"OVRO (15 GHz)","t":54775,"f":6.3},{"s":"OVRO (15 GHz)","t":54790,"f":6.1},{"s":"OVRO (15 GHz)","t":54806,"f":5.6,"lo":5.2,"hi":6.0},{"s":"OVRO (15 GHz)","t":54820,"f":6.0},{"s":"OVRO (15 GHz)","t":54840,"f":5.8},{"s":"OVRO (15 GHz)","t":54860,"f":5.5},{"s":"OVRO (15 GHz)","t":54880,"f":6.0},{"s":"OVRO (15 GHz)","t":54900,"f":6.6},{"s":"OVRO (15 GHz)","t":54920,"f":6.1},{"s":"OVRO (15 GHz)","t":54940,"f":5.9},{"s":"OVRO (15 GHz)","t":54960,"f":6.2},{"s":"OVRO (15 GHz)","t":54980,"f":6.0},{"s":"OVRO (15 GHz)","t":55000,"f":6.2},{"s":"OVRO (15 GHz)","t":55020,"f":5.8},{"s":"OVRO (15 GHz)","t":55040,"f":6.1},{"s":"OVRO (15 GHz)","t":55060,"f":5.9},{"s":"OVRO (15 GHz)","t":55080,"f":6.3},{"s":"OVRO (15 GHz)","t":55100,"f":6.5},{"s":"OVRO (15 GHz)","t":55120,"f":6.3},{"s":"OVRO (15 GHz)","t":55140,"f":6.6},{"s":"OVRO (15 GHz)","t":55160,"f":6.7},{"s":"OVRO (15 GHz)","t":55180,"f":6.9},{"s":"OVRO (15 GHz)","t":55200,"f":6.3},{"s":"OVRO (15 GHz)","t":55220,"f":6.0},{"s":"OVRO (15 GHz)","t":55240,"f":5.7},{"s":"OVRO (15 GHz)","t":55260,"f":5.8},{"s":"OVRO (15 GHz)","t":55280,"f":5.3},{"s":"OVRO (15 GHz)","t":55300,"f":4.8},{"s":"OVRO (15 GHz)","t":55320,"f":4.6,"lo":4.0,"hi":5.3},{"s":"OVRO (15 GHz)","t":55340,"f":4.5},{"s":"OVRO (15 GHz)","t":55360,"f":4.5},{"s":"OVRO (15 GHz)","t":55380,"f":4.2},{"s":"OVRO (15 GHz)","t":55400,"f":4.1},{"s":"OVRO (15 GHz)","t":55420,"f":4.0},{"s":"OVRO (15 GHz)","t":55440,"f":4.1},{"s":"OVRO (15 GHz)","t":55450,"f":2.9,"lo":2.7,"hi":3.2},{"s":"OVRO (15 GHz)","t":55460,"f":3.9},{"s":"OVRO (15 GHz)","t":55480,"f":4.3},{"s":"OVRO (15 GHz)","t":55500,"f":4.6},{"s":"OVRO (15 GHz)","t":55520,"f":4.8},{"s":"OVRO (15 GHz)","t":55535,"f":4.6},{"s":"OVRO (15 GHz)","t":55570,"f":4.2},{"s":"OVRO (15 GHz)","t":55590,"f":4.1},{"s":"OVRO (15 GHz)","t":55610,"f":3.9},{"s":"OVRO (15 GHz)","t":55630,"f":4.0},{"s":"OVRO (15 GHz)","t":55650,"f":3.8},{"s":"OVRO (15 GHz)","t":55670,"f":3.9},{"s":"OVRO (15 GHz)","t":55690,"f":4.1},{"s":"OVRO (15 GHz)","t":55710,"f":4.3},{"s":"OVRO (15 GHz)","t":55730,"f":4.2},{"s":"OVRO (15 GHz)","t":55750,"f":4.1,"lo":2.9,"hi":5.8},{"s":"OVRO (15 GHz)","t":55770,"f":4.3},{"s":"OVRO (15 GHz)","t":55790,"f":4.2},{"s":"OVRO (15 GHz)","t":55810,"f":4.4},{"s":"OVRO (15 GHz)","t":55830,"f":4.2},{"s":"OVRO (15 GHz)","t":55850,"f":4.1},{"s":"OVRO (15 GHz)","t":55870,"f":4.0},{"s":"OVRO (15 GHz)","t":55890,"f":3.9},{"s":"OVRO (15 GHz)","t":55910,"f":4.0},{"s":"OVRO (15 GHz)","t":55930,"f":3.9},{"s":"OVRO (15 GHz)","t":55950,"f":3.8},{"s":"OVRO (15 GHz)","t":55970,"f":4.0},{"s":"OVRO (15 GHz)","t":55990,"f":4.1},{"s":"OVRO (15 GHz)","t":56030,"f":3.6},{"s":"OVRO (15 GHz)","t":56050,"f":3.5},{"s":"OVRO (15 GHz)","t":56080,"f":3.6},{"s":"OVRO (15 GHz)","t":56100,"f":3.7},{"s":"OVRO (15 GHz)","t":56120,"f":3.4,"lo":3.0,"hi":3.8},{"s":"OVRO (15 GHz)","t":56140,"f":3.6},{"s":"OVRO (15 GHz)","t":56160,"f":3.5},{"s":"OVRO (15 GHz)","t":56180,"f":3.3},{"s":"OVRO (15 GHz)","t":56200,"f":3.5},{"s":"OVRO (15 GHz)","t":56220,"f":3.4},{"s":"OVRO (15 GHz)","t":56240,"f":3.6},{"s":"OVRO (15 GHz)","t":56260,"f":3.4},{"s":"OVRO (15 GHz)","t":56280,"f":3.5},{"s":"OVRO (15 GHz)","t":56320,"f":3.7},{"s":"OVRO (15 GHz)","t":56340,"f":3.4},{"s":"OVRO (15 GHz)","t":56360,"f":3.3},{"s":"OVRO (15 GHz)","t":56390,"f":4.0},{"s":"OVRO (15 GHz)","t":56410,"f":4.1},{"s":"OVRO (15 GHz)","t":56430,"f":4.3},{"s":"OVRO (15 GHz)","t":56450,"f":4.2},{"s":"OVRO (15 GHz)","t":56470,"f":4.5},{"s":"OVRO (15 GHz)","t":56490,"f":4.4},{"s":"OVRO (15 GHz)","t":56510,"f":4.6},{"s":"OVRO (15 GHz)","t":56530,"f":4.4},{"s":"OVRO (15 GHz)","t":56550,"f":4.7},{"s":"OVRO (15 GHz)","t":56570,"f":4.6},{"s":"OVRO (15 GHz)","t":56590,"f":4.8},{"s":"OVRO (15 GHz)","t":56610,"f":4.7},{"s":"OVRO (15 GHz)","t":56630,"f":4.9},{"s":"OVRO (15 GHz)","t":56645,"f":5.1},{"s":"OVRO (15 GHz)","t":56660,"f":4.8},{"s":"OVRO (15 GHz)","t":56680,"f":4.7},{"s":"OVRO (15 GHz)","t":56700,"f":4.5},{"s":"OVRO (15 GHz)","t":56720,"f":4.6},{"s":"OVRO (15 GHz)","t":56740,"f":4.3},{"s":"OVRO (15 GHz)","t":56760,"f":4.4},{"s":"OVRO (15 GHz)","t":56775,"f":4.0},{"s":"OVRO (15 GHz)","t":56830,"f":3.7},{"s":"OVRO (15 GHz)","t":56845,"f":3.4},{"s":"OVRO (15 GHz)","t":56860,"f":3.3},{"s":"OVRO (15 GHz)","t":56880,"f":3.5},{"s":"OVRO (15 GHz)","t":56900,"f":3.6},{"s":"OVRO (15 GHz)","t":56920,"f":3.7},{"s":"OVRO (15 GHz)","t":56940,"f":3.6},{"s":"OVRO (15 GHz)","t":56960,"f":3.8},{"s":"OVRO (15 GHz)","t":56980,"f":3.8},{"s":"OVRO (15 GHz)","t":57000,"f":3.9},{"s":"OVRO (15 GHz)","t":57020,"f":3.9},{"s":"OVRO (15 GHz)","t":57040,"f":4.2},{"s":"OVRO (15 GHz)","t":57060,"f":4.4},{"s":"OVRO (15 GHz)","t":57080,"f":4.6},{"s":"OVRO (15 GHz)","t":57100,"f":4.7},{"s":"OVRO (15 GHz)","t":57215,"f":5.0},{"s":"OVRO (15 GHz)","t":57230,"f":4.8},{"s":"OVRO (15 GHz)","t":57250,"f":4.6},{"s":"OVRO (15 GHz)","t":57270,"f":4.5},{"s":"OVRO (15 GHz)","t":57290,"f":4.3},{"s":"OVRO (15 GHz)","t":57310,"f":4.1},{"s":"OVRO (15 GHz)","t":57325,"f":4.0},{"s":"OVRO (15 GHz)","t":57355,"f":3.8},{"s":"OVRO (15 GHz)","t":57380,"f":3.7},{"s":"OVRO (15 GHz)","t":57400,"f":3.6},{"s":"OVRO (15 GHz)","t":57420,"f":3.5},{"s":"OVRO (15 GHz)","t":57440,"f":3.6},{"s":"OVRO (15 GHz)","t":57460,"f":3.8},{"s":"OVRO (15 GHz)","t":57480,"f":3.9},{"s":"OVRO (15 GHz)","t":57505,"f":4.2},{"s":"OVRO (15 GHz)","t":57520,"f":4.4},{"s":"OVRO (15 GHz)","t":57540,"f":4.3},{"s":"OVRO (15 GHz)","t":57560,"f":4.6},{"s":"OVRO (15 GHz)","t":57580,"f":4.8},{"s":"OVRO (15 GHz)","t":57600,"f":4.7},{"s":"OVRO (15 GHz)","t":57620,"f":5.0},{"s":"OVRO (15 GHz)","t":57640,"f":5.2},{"s":"OVRO (15 GHz)","t":57660,"f":5.4},{"s":"OVRO (15 GHz)","t":57680,"f":5.6},{"s":"OVRO (15 GHz)","t":57700,"f":5.8},{"s":"OVRO (15 GHz)","t":57710,"f":6.1},{"s":"OVRO (15 GHz)","t":57720,"f":5.7},{"s":"OVRO (15 GHz)","t":57740,"f":6.0},{"s":"OVRO (15 GHz)","t":57750,"f":6.5,"lo":6.2,"hi":6.8},{"s":"OVRO (15 GHz)","t":57760,"f":5.9},{"s":"OVRO (15 GHz)","t":57780,"f":5.8},{"s":"OVRO (15 GHz)","t":57800,"f":5.5},{"s":"OVRO (15 GHz)","t":57815,"f":5.2},{"s":"OVRO (15 GHz)","t":57890,"f":6.3},{"s":"OVRO (15 GHz)","t":57910,"f":6.0},{"s":"OVRO (15 GHz)","t":57930,"f":5.9},{"s":"OVRO (15 GHz)","t":57950,"f":6.2},{"s":"OVRO (15 GHz)","t":57975,"f":6.8},{"s":"OVRO (15 GHz)","t":57990,"f":7.0},{"s":"OVRO (15 GHz)","t":57998,"f":7.2},
{"s":"OVRO (15 GHz)","t":58002.5,"f":6.58},{"s":"OVRO (15 GHz)","t":58005.5,"f":6.52},{"s":"OVRO (15 GHz)","t":58010.5,"f":6.87},{"s":"OVRO (15 GHz)","t":58013.5,"f":7.26},{"s":"OVRO (15 GHz)","t":58021.4,"f":7.42},{"s":"OVRO (15 GHz)","t":58027.6,"f":6.13},{"s":"OVRO (15 GHz)","t":58042.4,"f":6.55},
{"s":"VLA (11 GHz)","t":58031.6,"f":6.97},{"s":"VLA (11 GHz)","t":58032.3,"f":7.26},{"s":"VLA (11 GHz)","t":58035.5,"f":6.71},{"s":"VLA (11 GHz)","t":58038.3,"f":7.26}
]
},
"columns":2,
"spacing":{"row":5,"column":12},
"bounds":"flush",
"resolve":{"scale":{"x":"independent","y":"independent","color":"independent","shape":"independent"}},
"concat":[
 {"width":643,"height":104,"data":{"name":"A"},"layer":[
  {"data":{"name":"nu"},"mark":{"type":"rule","clip":true,"color":"#ff0000","strokeDash":[6,4],"strokeWidth":1.3},"encoding":{"x":{"field":"t","type":"quantitative","scale":{"domain":[54700,58000],"nice":false,"zero":false},"axis":{"orient":"bottom","values":[54700,54800,54900,55000,55100,55200,55300,55400,55500,55600,55700,55800,55900,56000,56100,56200,56300,56400,56500,56600,56700,56800,56900,57000,57100,57200,57300,57400,57500,57600,57700,57800,57900,58000],"tickSize":-3,"labels":false,"title":null}}}},
  {"mark":{"type":"rule","clip":true,"strokeWidth":1.2},"encoding":{"x":{"field":"t","type":"quantitative","scale":{"domain":[54700,58000],"nice":false,"zero":false},"axis":{"orient":"bottom","values":[55000,55500,56000,56500,57000,57500,58000],"tickSize":-6,"labels":false,"title":null}},"y":{"field":"lo","type":"quantitative","scale":{"domain":[0,11],"nice":false,"zero":false},"axis":null},"y2":{"field":"hi"},"color":{"condition":[{"test":"indexof(['VERITAS (E>175 GeV)','AGILE (E>100 MeV)','Kiso (g-band)'], datum.s) >= 0","value":"#5a5aff"},{"test":"indexof(['HESS (E>175 GeV)','Kanata (R-band)','VLA (11 GHz)'], datum.s) >= 0","value":"#ff0000"}],"value":"#333333"}}},
  {"transform":[{"filter":"datum.k == 'u'"}],"mark":{"type":"point","filled":true,"clip":true,"shape":"triangle-down","size":16,"opacity":1},"encoding":{"x":{"field":"t","type":"quantitative","scale":{"domain":[54700,58000],"nice":false,"zero":false},"axis":null},"y":{"field":"lo","type":"quantitative","scale":{"domain":[0,11],"nice":false,"zero":false},"axis":null},"color":{"condition":[{"test":"indexof(['VERITAS (E>175 GeV)','AGILE (E>100 MeV)','Kiso (g-band)'], datum.s) >= 0","value":"#5a5aff"},{"test":"indexof(['HESS (E>175 GeV)','Kanata (R-band)','VLA (11 GHz)'], datum.s) >= 0","value":"#ff0000"}],"value":"#333333"}}},
  {"mark":{"type":"point","filled":true,"clip":true,"size":30,"opacity":1},"encoding":{"x":{"field":"t","type":"quantitative","scale":{"domain":[54700,58000],"nice":false,"zero":false},"axis":{"orient":"top","values":[54832,55197,55562,55927,56293,56658,57023,57388,57754],"tickSize":-6,"labelPadding":10,"labelExpr":"'' + (2009 + round((datum.value - 54832) / 365.25))","title":null}},"y":{"field":"f","type":"quantitative","scale":{"domain":[0,11],"nice":false,"zero":false},"axis":{"orient":"left","values":[0,3,6,9],"tickSize":-5,"labelPadding":11,"title":["Flux","10⁻¹¹ cm⁻² s⁻¹"],"titlePadding":10.5}},"color":{"field":"s","type":"nominal","scale":{"domain":["MAGIC (E>90 GeV)","VERITAS (E>175 GeV)","HESS (E>175 GeV)"],"range":["#333333","#5a5aff","#ff0000"]},"legend":{"orient":"none","legendX":20,"legendY":8,"direction":"horizontal","title":null,"labelFontSize":15,"labelLimit":0,"symbolSize":80,"symbolStrokeWidth":0,"columnPadding":8,"labelOffset":2,"encode":{"labels":{"update":{"fill":{"signal":"indexof(['VERITAS (E>175 GeV)','AGILE (E>100 MeV)','Kiso (g-band)'], datum.value) >= 0 ? '#5a5aff' : (indexof(['HESS (E>175 GeV)','Kanata (R-band)','VLA (11 GHz)'], datum.value) >= 0 ? '#ff0000' : '#333333')"}}}}}},"shape":{"field":"s","type":"nominal","scale":{"domain":["MAGIC (E>90 GeV)","VERITAS (E>175 GeV)","HESS (E>175 GeV)"],"range":["circle","square","triangle-up"]},"legend":{"orient":"none","legendX":20,"legendY":8,"direction":"horizontal","title":null,"labelFontSize":15,"labelLimit":0,"symbolSize":80,"symbolStrokeWidth":0,"columnPadding":8,"labelOffset":2}}}}
 ],"resolve":{"axis":{"x":"independent","y":"independent"}}},
 {"width":646,"height":104,"data":{"name":"A"},"layer":[
  {"data":{"name":"nu"},"mark":{"type":"rule","clip":true,"color":"#ff0000","strokeDash":[6,4],"strokeWidth":1.3},"encoding":{"x":{"field":"t","type":"quantitative","scale":{"domain":[58002,58050],"nice":false,"zero":false},"axis":{"orient":"bottom","values":[58003,58004,58005,58006,58007,58008,58009,58010,58011,58012,58013,58014,58015,58016,58017,58018,58019,58020,58021,58022,58023,58024,58025,58026,58027,58028,58029,58030,58031,58032,58033,58034,58035,58036,58037,58038,58039,58040,58041,58042,58043,58044,58045,58046,58047,58048,58049],"tickSize":-3,"labels":false,"title":null}}}},
  {"mark":{"type":"rule","clip":true,"strokeWidth":1.2},"encoding":{"x":{"field":"t","type":"quantitative","scale":{"domain":[58002,58050],"nice":false,"zero":false},"axis":{"orient":"bottom","values":[58010,58020,58030,58040,58050],"tickSize":-6,"labels":false,"title":null}},"y":{"field":"lo","type":"quantitative","scale":{"domain":[0,11],"nice":false,"zero":false},"axis":null},"y2":{"field":"hi"},"color":{"field":"s","type":"nominal","scale":{"domain":["MAGIC (E>90 GeV)","VERITAS (E>175 GeV)","HESS (E>175 GeV)"],"range":["#333333","#5a5aff","#ff0000"]},"legend":null}}},
  {"transform":[{"filter":"datum.k == 'd'"}],"mark":{"type":"tick","clip":true,"orient":"horizontal","size":6,"thickness":1.3},"encoding":{"x":{"field":"t","type":"quantitative","scale":{"domain":[58002,58050],"nice":false,"zero":false},"axis":null},"y":{"field":"hi","type":"quantitative","scale":{"domain":[0,11],"nice":false,"zero":false},"axis":null},"color":{"field":"s","type":"nominal","scale":{"domain":["MAGIC (E>90 GeV)","VERITAS (E>175 GeV)","HESS (E>175 GeV)"],"range":["#333333","#5a5aff","#ff0000"]},"legend":null}}},
  {"transform":[{"filter":"datum.k == 'd'"}],"mark":{"type":"tick","clip":true,"orient":"horizontal","size":6,"thickness":1.3},"encoding":{"x":{"field":"t","type":"quantitative","scale":{"domain":[58002,58050],"nice":false,"zero":false},"axis":null},"y":{"field":"lo","type":"quantitative","scale":{"domain":[0,11],"nice":false,"zero":false},"axis":null},"color":{"field":"s","type":"nominal","scale":{"domain":["MAGIC (E>90 GeV)","VERITAS (E>175 GeV)","HESS (E>175 GeV)"],"range":["#333333","#5a5aff","#ff0000"]},"legend":null}}},
  {"transform":[{"filter":"datum.k == 'u'"}],"mark":{"type":"point","filled":true,"clip":true,"shape":"triangle-down","size":22,"opacity":1},"encoding":{"x":{"field":"t","type":"quantitative","scale":{"domain":[58002,58050],"nice":false,"zero":false},"axis":null},"y":{"field":"lo","type":"quantitative","scale":{"domain":[0,11],"nice":false,"zero":false},"axis":null},"color":{"field":"s","type":"nominal","scale":{"domain":["MAGIC (E>90 GeV)","VERITAS (E>175 GeV)","HESS (E>175 GeV)"],"range":["#333333","#5a5aff","#ff0000"]},"legend":null}}},
  {"mark":{"type":"point","filled":true,"clip":true,"size":60,"opacity":1},"encoding":{"x":{"field":"t","type":"quantitative","scale":{"domain":[58002,58050],"nice":false,"zero":false},"axis":{"orient":"top","values":[58011,58027,58041],"tickSize":-7,"labelPadding":11,"labelExpr":"datum.value == 58011 ? '15 September, 2017' : (datum.value == 58027 ? '1 October, 2017' : '15 October, 2017')","title":null}},"y":{"field":"f","type":"quantitative","scale":{"domain":[0,11],"nice":false,"zero":false},"axis":{"orient":"right","values":[0,3,6,9],"tickSize":-5,"labels":false,"title":null}},"color":{"field":"s","type":"nominal","scale":{"domain":["MAGIC (E>90 GeV)","VERITAS (E>175 GeV)","HESS (E>175 GeV)"],"range":["#333333","#5a5aff","#ff0000"]},"legend":null},"shape":{"field":"s","type":"nominal","scale":{"domain":["MAGIC (E>90 GeV)","VERITAS (E>175 GeV)","HESS (E>175 GeV)"],"range":["circle","square","triangle-up"]},"legend":null}}},
  {"data":{"values":[{"label":"A"}]},"mark":{"type":"text","align":"right","baseline":"middle","font":"Liberation Sans Narrow, DejaVu Sans Condensed","fontWeight":"bold","fontSize":30,"color":"#000000"},"encoding":{"x":{"datum":58048.74,"type":"quantitative","scale":{"domain":[58002,58050],"nice":false,"zero":false},"axis":null},"y":{"datum":8.88,"type":"quantitative","scale":{"domain":[0,11],"nice":false,"zero":false},"axis":null},"text":{"field":"label"}}}
 ],"resolve":{"axis":{"x":"independent","y":"independent"}}},
 {"width":643,"height":104,"data":{"name":"B"},"layer":[
  {"data":{"name":"nu"},"mark":{"type":"rule","clip":true,"color":"#ff0000","strokeDash":[6,4],"strokeWidth":1.3},"encoding":{"x":{"field":"t","type":"quantitative","scale":{"domain":[54700,58000],"nice":false,"zero":false},"axis":{"orient":"bottom","values":[54700,54800,54900,55000,55100,55200,55300,55400,55500,55600,55700,55800,55900,56000,56100,56200,56300,56400,56500,56600,56700,56800,56900,57000,57100,57200,57300,57400,57500,57600,57700,57800,57900,58000],"tickSize":-3,"labels":false,"title":null}}}},
  {"mark":{"type":"rule","clip":true,"strokeWidth":1.6},"encoding":{"x":{"field":"t","type":"quantitative","scale":{"domain":[54700,58000],"nice":false,"zero":false},"axis":{"orient":"bottom","values":[55000,55500,56000,56500,57000,57500,58000],"tickSize":-6,"labels":false,"title":null}},"y":{"field":"lo","type":"quantitative","scale":{"domain":[0,6],"nice":false,"zero":false},"axis":null},"y2":{"field":"hi"},"color":{"condition":[{"test":"indexof(['VERITAS (E>175 GeV)','AGILE (E>100 MeV)','Kiso (g-band)'], datum.s) >= 0","value":"#5a5aff"},{"test":"indexof(['HESS (E>175 GeV)','Kanata (R-band)','VLA (11 GHz)'], datum.s) >= 0","value":"#ff0000"}],"value":"#333333"}}},
  {"transform":[{"filter":"!isValid(datum.t0)"}],"mark":{"type":"tick","clip":true,"orient":"horizontal","size":6,"thickness":1.7,"color":"#333333"},"encoding":{"x":{"field":"t","type":"quantitative","scale":{"domain":[54700,58000],"nice":false,"zero":false},"axis":null},"y":{"field":"f","type":"quantitative","scale":{"domain":[0,6],"nice":false,"zero":false},"axis":null}}},
  {"transform":[{"filter":"!isValid(datum.t0)"}],"mark":{"type":"tick","clip":true,"orient":"vertical","size":6,"thickness":1.6,"color":"#333333"},"encoding":{"x":{"field":"t","type":"quantitative","scale":{"domain":[54700,58000],"nice":false,"zero":false},"axis":null},"y":{"field":"f","type":"quantitative","scale":{"domain":[0,6],"nice":false,"zero":false},"axis":null}}},
  {"mark":{"type":"point","filled":true,"clip":true,"size":8,"opacity":1},"encoding":{"x":{"field":"t","type":"quantitative","scale":{"domain":[54700,58000],"nice":false,"zero":false},"axis":{"orient":"top","values":[54832,55197,55562,55927,56293,56658,57023,57388,57754],"tickSize":-6,"labels":false,"title":null}},"y":{"field":"f","type":"quantitative","scale":{"domain":[0,6],"nice":false,"zero":false},"axis":{"orient":"left","values":[0,2,4],"tickSize":-5,"labelPadding":11,"title":["Flux","10⁻⁷ cm⁻² s⁻¹"],"titlePadding":10.5}},"color":{"field":"s","type":"nominal","scale":{"domain":["Fermi-LAT (E>100 MeV)","AGILE (E>100 MeV)"],"range":["#333333","#5a5aff"]},"legend":{"orient":"none","legendX":20,"legendY":8,"direction":"horizontal","title":null,"labelFontSize":15,"labelLimit":0,"symbolSize":80,"symbolStrokeWidth":0,"columnPadding":8,"labelOffset":2,"encode":{"labels":{"update":{"fill":{"signal":"indexof(['VERITAS (E>175 GeV)','AGILE (E>100 MeV)','Kiso (g-band)'], datum.value) >= 0 ? '#5a5aff' : (indexof(['HESS (E>175 GeV)','Kanata (R-band)','VLA (11 GHz)'], datum.value) >= 0 ? '#ff0000' : '#333333')"}}}}}},"shape":{"field":"s","type":"nominal","scale":{"domain":["Fermi-LAT (E>100 MeV)","AGILE (E>100 MeV)"],"range":["circle","square"]},"legend":{"orient":"none","legendX":20,"legendY":8,"direction":"horizontal","title":null,"labelFontSize":15,"labelLimit":0,"symbolSize":80,"symbolStrokeWidth":0,"columnPadding":8,"labelOffset":2}}}}
 ],"resolve":{"axis":{"x":"independent","y":"independent"}}},
 {"width":646,"height":104,"data":{"name":"B"},"layer":[
  {"data":{"name":"nu"},"mark":{"type":"rule","clip":true,"color":"#ff0000","strokeDash":[6,4],"strokeWidth":1.3},"encoding":{"x":{"field":"t","type":"quantitative","scale":{"domain":[58002,58050],"nice":false,"zero":false},"axis":{"orient":"bottom","values":[58003,58004,58005,58006,58007,58008,58009,58010,58011,58012,58013,58014,58015,58016,58017,58018,58019,58020,58021,58022,58023,58024,58025,58026,58027,58028,58029,58030,58031,58032,58033,58034,58035,58036,58037,58038,58039,58040,58041,58042,58043,58044,58045,58046,58047,58048,58049],"tickSize":-3,"labels":false,"title":null}}}},
  {"mark":{"type":"rule","clip":true,"strokeWidth":1.2},"encoding":{"x":{"field":"t","type":"quantitative","scale":{"domain":[58002,58050],"nice":false,"zero":false},"axis":{"orient":"bottom","values":[58010,58020,58030,58040,58050],"tickSize":-6,"labels":false,"title":null}},"y":{"field":"lo","type":"quantitative","scale":{"domain":[0,6],"nice":false,"zero":false},"axis":null},"y2":{"field":"hi"},"color":{"field":"s","type":"nominal","scale":{"domain":["Fermi-LAT (E>100 MeV)","AGILE (E>100 MeV)"],"range":["#333333","#5a5aff"]},"legend":null}}},
  {"transform":[{"filter":"isValid(datum.t0)"}],"mark":{"type":"rule","clip":true,"strokeWidth":1.2},"encoding":{"x":{"field":"t0","type":"quantitative","scale":{"domain":[58002,58050],"nice":false,"zero":false},"axis":null},"x2":{"field":"t1"},"y":{"field":"f","type":"quantitative","scale":{"domain":[0,6],"nice":false,"zero":false},"axis":null},"color":{"field":"s","type":"nominal","scale":{"domain":["Fermi-LAT (E>100 MeV)","AGILE (E>100 MeV)"],"range":["#333333","#5a5aff"]},"legend":null}}},
  {"transform":[{"filter":"isValid(datum.t0)"}],"mark":{"type":"tick","clip":true,"orient":"horizontal","size":6,"thickness":1.3},"encoding":{"x":{"field":"t","type":"quantitative","scale":{"domain":[58002,58050],"nice":false,"zero":false},"axis":null},"y":{"field":"hi","type":"quantitative","scale":{"domain":[0,6],"nice":false,"zero":false},"axis":null},"color":{"field":"s","type":"nominal","scale":{"domain":["Fermi-LAT (E>100 MeV)","AGILE (E>100 MeV)"],"range":["#333333","#5a5aff"]},"legend":null}}},
  {"transform":[{"filter":"isValid(datum.t0)"}],"mark":{"type":"tick","clip":true,"orient":"horizontal","size":6,"thickness":1.3},"encoding":{"x":{"field":"t","type":"quantitative","scale":{"domain":[58002,58050],"nice":false,"zero":false},"axis":null},"y":{"field":"lo","type":"quantitative","scale":{"domain":[0,6],"nice":false,"zero":false},"axis":null},"color":{"field":"s","type":"nominal","scale":{"domain":["Fermi-LAT (E>100 MeV)","AGILE (E>100 MeV)"],"range":["#333333","#5a5aff"]},"legend":null}}},
  {"transform":[{"filter":"isValid(datum.t0)"}],"mark":{"type":"tick","clip":true,"orient":"vertical","size":6,"thickness":1.3},"encoding":{"x":{"field":"t0","type":"quantitative","scale":{"domain":[58002,58050],"nice":false,"zero":false},"axis":null},"y":{"field":"f","type":"quantitative","scale":{"domain":[0,6],"nice":false,"zero":false},"axis":null},"color":{"field":"s","type":"nominal","scale":{"domain":["Fermi-LAT (E>100 MeV)","AGILE (E>100 MeV)"],"range":["#333333","#5a5aff"]},"legend":null}}},
  {"transform":[{"filter":"isValid(datum.t0)"}],"mark":{"type":"tick","clip":true,"orient":"vertical","size":6,"thickness":1.3},"encoding":{"x":{"field":"t1","type":"quantitative","scale":{"domain":[58002,58050],"nice":false,"zero":false},"axis":null},"y":{"field":"f","type":"quantitative","scale":{"domain":[0,6],"nice":false,"zero":false},"axis":null},"color":{"field":"s","type":"nominal","scale":{"domain":["Fermi-LAT (E>100 MeV)","AGILE (E>100 MeV)"],"range":["#333333","#5a5aff"]},"legend":null}}},
  {"mark":{"type":"point","filled":true,"clip":true,"size":60,"opacity":1},"encoding":{"x":{"field":"t","type":"quantitative","scale":{"domain":[58002,58050],"nice":false,"zero":false},"axis":{"orient":"top","values":[58011,58027,58041],"tickSize":-7,"labels":false,"title":null}},"y":{"field":"f","type":"quantitative","scale":{"domain":[0,6],"nice":false,"zero":false},"axis":{"orient":"right","values":[0,2,4],"tickSize":-5,"labels":false,"title":null}},"color":{"field":"s","type":"nominal","scale":{"domain":["Fermi-LAT (E>100 MeV)","AGILE (E>100 MeV)"],"range":["#333333","#5a5aff"]},"legend":null},"shape":{"field":"s","type":"nominal","scale":{"domain":["Fermi-LAT (E>100 MeV)","AGILE (E>100 MeV)"],"range":["circle","square"]},"legend":null}}},
  {"data":{"values":[{"label":"B"}]},"mark":{"type":"text","align":"right","baseline":"middle","font":"Liberation Sans Narrow, DejaVu Sans Condensed","fontWeight":"bold","fontSize":30,"color":"#000000"},"encoding":{"x":{"datum":58048.74,"type":"quantitative","scale":{"domain":[58002,58050],"nice":false,"zero":false},"axis":null},"y":{"datum":4.85,"type":"quantitative","scale":{"domain":[0,6],"nice":false,"zero":false},"axis":null},"text":{"field":"label"}}}
 ],"resolve":{"axis":{"x":"independent","y":"independent"}}},
 {"width":643,"height":104,"data":{"name":"C"},"layer":[
  {"data":{"name":"nu"},"mark":{"type":"rule","clip":true,"color":"#ff0000","strokeDash":[6,4],"strokeWidth":1.3},"encoding":{"x":{"field":"t","type":"quantitative","scale":{"domain":[54700,58000],"nice":false,"zero":false},"axis":{"orient":"bottom","values":[54700,54800,54900,55000,55100,55200,55300,55400,55500,55600,55700,55800,55900,56000,56100,56200,56300,56400,56500,56600,56700,56800,56900,57000,57100,57200,57300,57400,57500,57600,57700,57800,57900,58000],"tickSize":-3,"labels":false,"title":null}}}},
  {"mark":{"type":"rule","clip":true,"strokeWidth":1.1,"color":"#333333"},"encoding":{"x":{"field":"t","type":"quantitative","scale":{"domain":[54700,58000],"nice":false,"zero":false},"axis":{"orient":"bottom","values":[55000,55500,56000,56500,57000,57500,58000],"tickSize":-6,"labels":false,"title":null}},"y":{"field":"lo","type":"quantitative","scale":{"domain":[0,6],"nice":false,"zero":false},"axis":null},"y2":{"field":"hi"}}},
  {"mark":{"type":"tick","clip":true,"orient":"horizontal","size":4,"thickness":1.1,"color":"#333333"},"encoding":{"x":{"field":"t","type":"quantitative","scale":{"domain":[54700,58000],"nice":false,"zero":false},"axis":null},"y":{"field":"hi","type":"quantitative","scale":{"domain":[0,6],"nice":false,"zero":false},"axis":null}}},
  {"mark":{"type":"tick","clip":true,"orient":"horizontal","size":4,"thickness":1.1,"color":"#333333"},"encoding":{"x":{"field":"t","type":"quantitative","scale":{"domain":[54700,58000],"nice":false,"zero":false},"axis":null},"y":{"field":"lo","type":"quantitative","scale":{"domain":[0,6],"nice":false,"zero":false},"axis":null}}},
  {"mark":{"type":"point","filled":true,"clip":true,"size":18,"opacity":1},"encoding":{"x":{"field":"t","type":"quantitative","scale":{"domain":[54700,58000],"nice":false,"zero":false},"axis":{"orient":"top","values":[54832,55197,55562,55927,56293,56658,57023,57388,57754],"tickSize":-6,"labels":false,"title":null}},"y":{"field":"f","type":"quantitative","scale":{"domain":[0,6],"nice":false,"zero":false},"axis":{"orient":"left","values":[0,2,4],"tickSize":-5,"labelPadding":11,"title":["Energy flux × 10¹²","erg cm⁻² s⁻¹"],"titlePadding":10.5}},"color":{"field":"s","type":"nominal","scale":{"domain":["Swift (0.3 keV - 10 keV)"],"range":["#333333"]},"legend":{"orient":"none","legendX":20,"legendY":8,"direction":"horizontal","title":null,"labelFontSize":15,"labelLimit":0,"symbolSize":80,"symbolStrokeWidth":0,"labelOffset":2}},"shape":{"field":"s","type":"nominal","scale":{"domain":["Swift (0.3 keV - 10 keV)"],"range":["circle"]},"legend":{"orient":"none","legendX":20,"legendY":8,"direction":"horizontal","title":null,"labelFontSize":15,"labelLimit":0,"symbolSize":80,"symbolStrokeWidth":0,"labelOffset":2}}}}
 ],"resolve":{"axis":{"x":"independent","y":"independent"}}},
 {"width":646,"height":104,"data":{"name":"C"},"layer":[
  {"data":{"name":"nu"},"mark":{"type":"rule","clip":true,"color":"#ff0000","strokeDash":[6,4],"strokeWidth":1.3},"encoding":{"x":{"field":"t","type":"quantitative","scale":{"domain":[58002,58050],"nice":false,"zero":false},"axis":{"orient":"bottom","values":[58003,58004,58005,58006,58007,58008,58009,58010,58011,58012,58013,58014,58015,58016,58017,58018,58019,58020,58021,58022,58023,58024,58025,58026,58027,58028,58029,58030,58031,58032,58033,58034,58035,58036,58037,58038,58039,58040,58041,58042,58043,58044,58045,58046,58047,58048,58049],"tickSize":-3,"labels":false,"title":null}}}},
  {"mark":{"type":"rule","clip":true,"strokeWidth":1.2,"color":"#333333"},"encoding":{"x":{"field":"t","type":"quantitative","scale":{"domain":[58002,58050],"nice":false,"zero":false},"axis":{"orient":"bottom","values":[58010,58020,58030,58040,58050],"tickSize":-6,"labels":false,"title":null}},"y":{"field":"lo","type":"quantitative","scale":{"domain":[0,6],"nice":false,"zero":false},"axis":null},"y2":{"field":"hi"}}},
  {"transform":[{"filter":"isValid(datum.t0)"}],"mark":{"type":"rule","clip":true,"strokeWidth":1.2,"color":"#333333"},"encoding":{"x":{"field":"t0","type":"quantitative","scale":{"domain":[58002,58050],"nice":false,"zero":false},"axis":null},"x2":{"field":"t1"},"y":{"field":"f","type":"quantitative","scale":{"domain":[0,6],"nice":false,"zero":false},"axis":null}}},
  {"mark":{"type":"tick","clip":true,"orient":"horizontal","size":6,"thickness":1.3,"color":"#333333"},"encoding":{"x":{"field":"t","type":"quantitative","scale":{"domain":[58002,58050],"nice":false,"zero":false},"axis":null},"y":{"field":"hi","type":"quantitative","scale":{"domain":[0,6],"nice":false,"zero":false},"axis":null}}},
  {"mark":{"type":"tick","clip":true,"orient":"horizontal","size":6,"thickness":1.3,"color":"#333333"},"encoding":{"x":{"field":"t","type":"quantitative","scale":{"domain":[58002,58050],"nice":false,"zero":false},"axis":null},"y":{"field":"lo","type":"quantitative","scale":{"domain":[0,6],"nice":false,"zero":false},"axis":null}}},
  {"transform":[{"filter":"isValid(datum.t0)"}],"mark":{"type":"tick","clip":true,"orient":"vertical","size":6,"thickness":1.3,"color":"#333333"},"encoding":{"x":{"field":"t0","type":"quantitative","scale":{"domain":[58002,58050],"nice":false,"zero":false},"axis":null},"y":{"field":"f","type":"quantitative","scale":{"domain":[0,6],"nice":false,"zero":false},"axis":null}}},
  {"transform":[{"filter":"isValid(datum.t0)"}],"mark":{"type":"tick","clip":true,"orient":"vertical","size":6,"thickness":1.3,"color":"#333333"},"encoding":{"x":{"field":"t1","type":"quantitative","scale":{"domain":[58002,58050],"nice":false,"zero":false},"axis":null},"y":{"field":"f","type":"quantitative","scale":{"domain":[0,6],"nice":false,"zero":false},"axis":null}}},
  {"mark":{"type":"point","filled":true,"clip":true,"size":60,"opacity":1,"color":"#333333"},"encoding":{"x":{"field":"t","type":"quantitative","scale":{"domain":[58002,58050],"nice":false,"zero":false},"axis":{"orient":"top","values":[58011,58027,58041],"tickSize":-7,"labels":false,"title":null}},"y":{"field":"f","type":"quantitative","scale":{"domain":[0,6],"nice":false,"zero":false},"axis":{"orient":"right","values":[0,2,4],"tickSize":-5,"labels":false,"title":null}}}},
  {"data":{"values":[{"label":"C"}]},"mark":{"type":"text","align":"right","baseline":"middle","font":"Liberation Sans Narrow, DejaVu Sans Condensed","fontWeight":"bold","fontSize":30,"color":"#000000"},"encoding":{"x":{"datum":58048.74,"type":"quantitative","scale":{"domain":[58002,58050],"nice":false,"zero":false},"axis":null},"y":{"datum":4.85,"type":"quantitative","scale":{"domain":[0,6],"nice":false,"zero":false},"axis":null},"text":{"field":"label"}}}
 ],"resolve":{"axis":{"x":"independent","y":"independent"}}},
 {"width":643,"height":104,"data":{"name":"D"},"layer":[
  {"data":{"name":"nu"},"mark":{"type":"rule","clip":true,"color":"#ff0000","strokeDash":[6,4],"strokeWidth":1.3},"encoding":{"x":{"field":"t","type":"quantitative","scale":{"domain":[54700,58000],"nice":false,"zero":false},"axis":{"orient":"bottom","values":[54700,54800,54900,55000,55100,55200,55300,55400,55500,55600,55700,55800,55900,56000,56100,56200,56300,56400,56500,56600,56700,56800,56900,57000,57100,57200,57300,57400,57500,57600,57700,57800,57900,58000],"tickSize":-3,"labels":false,"title":null}}}},
  {"mark":{"type":"rule","clip":true,"strokeWidth":1.1,"color":"#333333"},"encoding":{"x":{"field":"t","type":"quantitative","scale":{"domain":[54700,58000],"nice":false,"zero":false},"axis":{"orient":"bottom","values":[55000,55500,56000,56500,57000,57500,58000],"tickSize":-6,"labels":false,"title":null}},"y":{"field":"lo","type":"quantitative","scale":{"domain":[1.5,3.5],"nice":false,"zero":false},"axis":null},"y2":{"field":"hi"}}},
  {"mark":{"type":"point","filled":true,"clip":true,"size":18,"opacity":1},"encoding":{"x":{"field":"t","type":"quantitative","scale":{"domain":[54700,58000],"nice":false,"zero":false},"axis":{"orient":"top","values":[54832,55197,55562,55927,56293,56658,57023,57388,57754],"tickSize":-6,"labels":false,"title":null}},"y":{"field":"f","type":"quantitative","scale":{"domain":[1.5,3.5],"nice":false,"zero":false},"axis":{"orient":"left","values":[2,3],"tickSize":-5,"labelPadding":11,"title":["Spectral","Index"],"titlePadding":10.5}},"color":{"field":"s","type":"nominal","scale":{"domain":["Swift (photon index)"],"range":["#333333"]},"legend":{"orient":"none","legendX":20,"legendY":8,"direction":"horizontal","title":null,"labelFontSize":15,"labelLimit":0,"symbolSize":80,"symbolStrokeWidth":0,"labelOffset":2}},"shape":{"field":"s","type":"nominal","scale":{"domain":["Swift (photon index)"],"range":["circle"]},"legend":{"orient":"none","legendX":20,"legendY":8,"direction":"horizontal","title":null,"labelFontSize":15,"labelLimit":0,"symbolSize":80,"symbolStrokeWidth":0,"labelOffset":2}}}}
 ],"resolve":{"axis":{"x":"independent","y":"independent"}}},
 {"width":646,"height":104,"data":{"name":"D"},"layer":[
  {"data":{"name":"nu"},"mark":{"type":"rule","clip":true,"color":"#ff0000","strokeDash":[6,4],"strokeWidth":1.3},"encoding":{"x":{"field":"t","type":"quantitative","scale":{"domain":[58002,58050],"nice":false,"zero":false},"axis":{"orient":"bottom","values":[58003,58004,58005,58006,58007,58008,58009,58010,58011,58012,58013,58014,58015,58016,58017,58018,58019,58020,58021,58022,58023,58024,58025,58026,58027,58028,58029,58030,58031,58032,58033,58034,58035,58036,58037,58038,58039,58040,58041,58042,58043,58044,58045,58046,58047,58048,58049],"tickSize":-3,"labels":false,"title":null}}}},
  {"mark":{"type":"rule","clip":true,"strokeWidth":1.2,"color":"#333333"},"encoding":{"x":{"field":"t","type":"quantitative","scale":{"domain":[58002,58050],"nice":false,"zero":false},"axis":{"orient":"bottom","values":[58010,58020,58030,58040,58050],"tickSize":-6,"labels":false,"title":null}},"y":{"field":"lo","type":"quantitative","scale":{"domain":[1.5,3.5],"nice":false,"zero":false},"axis":null},"y2":{"field":"hi"}}},
  {"transform":[{"filter":"isValid(datum.t0)"}],"mark":{"type":"rule","clip":true,"strokeWidth":1.2,"color":"#333333"},"encoding":{"x":{"field":"t0","type":"quantitative","scale":{"domain":[58002,58050],"nice":false,"zero":false},"axis":null},"x2":{"field":"t1"},"y":{"field":"f","type":"quantitative","scale":{"domain":[1.5,3.5],"nice":false,"zero":false},"axis":null}}},
  {"mark":{"type":"tick","clip":true,"orient":"horizontal","size":6,"thickness":1.3,"color":"#333333"},"encoding":{"x":{"field":"t","type":"quantitative","scale":{"domain":[58002,58050],"nice":false,"zero":false},"axis":null},"y":{"field":"hi","type":"quantitative","scale":{"domain":[1.5,3.5],"nice":false,"zero":false},"axis":null}}},
  {"mark":{"type":"tick","clip":true,"orient":"horizontal","size":6,"thickness":1.3,"color":"#333333"},"encoding":{"x":{"field":"t","type":"quantitative","scale":{"domain":[58002,58050],"nice":false,"zero":false},"axis":null},"y":{"field":"lo","type":"quantitative","scale":{"domain":[1.5,3.5],"nice":false,"zero":false},"axis":null}}},
  {"transform":[{"filter":"isValid(datum.t0)"}],"mark":{"type":"tick","clip":true,"orient":"vertical","size":6,"thickness":1.3,"color":"#333333"},"encoding":{"x":{"field":"t0","type":"quantitative","scale":{"domain":[58002,58050],"nice":false,"zero":false},"axis":null},"y":{"field":"f","type":"quantitative","scale":{"domain":[1.5,3.5],"nice":false,"zero":false},"axis":null}}},
  {"transform":[{"filter":"isValid(datum.t0)"}],"mark":{"type":"tick","clip":true,"orient":"vertical","size":6,"thickness":1.3,"color":"#333333"},"encoding":{"x":{"field":"t1","type":"quantitative","scale":{"domain":[58002,58050],"nice":false,"zero":false},"axis":null},"y":{"field":"f","type":"quantitative","scale":{"domain":[1.5,3.5],"nice":false,"zero":false},"axis":null}}},
  {"mark":{"type":"point","filled":true,"clip":true,"size":60,"opacity":1,"color":"#333333"},"encoding":{"x":{"field":"t","type":"quantitative","scale":{"domain":[58002,58050],"nice":false,"zero":false},"axis":{"orient":"top","values":[58011,58027,58041],"tickSize":-7,"labels":false,"title":null}},"y":{"field":"f","type":"quantitative","scale":{"domain":[1.5,3.5],"nice":false,"zero":false},"axis":{"orient":"right","values":[2,3],"tickSize":-5,"labels":false,"title":null}}}},
  {"data":{"values":[{"label":"D"}]},"mark":{"type":"text","align":"right","baseline":"middle","font":"Liberation Sans Narrow, DejaVu Sans Condensed","fontWeight":"bold","fontSize":30,"color":"#000000"},"encoding":{"x":{"datum":58048.74,"type":"quantitative","scale":{"domain":[58002,58050],"nice":false,"zero":false},"axis":null},"y":{"datum":3.115,"type":"quantitative","scale":{"domain":[1.5,3.5],"nice":false,"zero":false},"axis":null},"text":{"field":"label"}}}
 ],"resolve":{"axis":{"x":"independent","y":"independent"}}},
 {"width":643,"height":104,"data":{"name":"E"},"layer":[
  {"data":{"name":"nu"},"mark":{"type":"rule","clip":true,"color":"#ff0000","strokeDash":[6,4],"strokeWidth":1.3},"encoding":{"x":{"field":"t","type":"quantitative","scale":{"domain":[54700,58000],"nice":false,"zero":false},"axis":{"orient":"bottom","values":[54700,54800,54900,55000,55100,55200,55300,55400,55500,55600,55700,55800,55900,56000,56100,56200,56300,56400,56500,56600,56700,56800,56900,57000,57100,57200,57300,57400,57500,57600,57700,57800,57900,58000],"tickSize":-3,"labels":false,"title":null}}}},
  {"transform":[{"filter":"isValid(datum.lo)"}],"mark":{"type":"rule","clip":true,"strokeWidth":1.2},"encoding":{"x":{"field":"t","type":"quantitative","scale":{"domain":[54700,58000],"nice":false,"zero":false},"axis":{"orient":"bottom","values":[55000,55500,56000,56500,57000,57500,58000],"tickSize":-6,"labels":false,"title":null}},"y":{"field":"lo","type":"quantitative","scale":{"domain":[0,12],"nice":false,"zero":false},"axis":null},"y2":{"field":"hi"},"color":{"condition":[{"test":"indexof(['VERITAS (E>175 GeV)','AGILE (E>100 MeV)','Kiso (g-band)'], datum.s) >= 0","value":"#5a5aff"},{"test":"indexof(['HESS (E>175 GeV)','Kanata (R-band)','VLA (11 GHz)'], datum.s) >= 0","value":"#ff0000"}],"value":"#333333"}}},
  {"mark":{"type":"point","filled":true,"clip":true,"size":32,"opacity":1},"encoding":{"x":{"field":"t","type":"quantitative","scale":{"domain":[54700,58000],"nice":false,"zero":false},"axis":{"orient":"top","values":[54832,55197,55562,55927,56293,56658,57023,57388,57754],"tickSize":-6,"labels":false,"title":null}},"y":{"field":"f","type":"quantitative","scale":{"domain":[0,12],"nice":false,"zero":false},"axis":{"orient":"left","values":[0,3,6,9],"tickSize":-5,"labelPadding":11,"title":["Flux density","10⁻³ Jy"],"titlePadding":10.5}},"color":{"field":"s","type":"nominal","scale":{"domain":["ASAS-SN (V-band)","Kiso (g-band)","Kanata (R-band)"],"range":["#333333","#5a5aff","#ff0000"]},"legend":{"orient":"none","legendX":20,"legendY":8,"direction":"horizontal","title":null,"labelFontSize":15,"labelLimit":0,"symbolSize":80,"symbolStrokeWidth":0,"columnPadding":8,"labelOffset":2,"encode":{"labels":{"update":{"fill":{"signal":"indexof(['VERITAS (E>175 GeV)','AGILE (E>100 MeV)','Kiso (g-band)'], datum.value) >= 0 ? '#5a5aff' : (indexof(['HESS (E>175 GeV)','Kanata (R-band)','VLA (11 GHz)'], datum.value) >= 0 ? '#ff0000' : '#333333')"}}}}}},"shape":{"field":"s","type":"nominal","scale":{"domain":["ASAS-SN (V-band)","Kiso (g-band)","Kanata (R-band)"],"range":["circle","square","triangle-up"]},"legend":{"orient":"none","legendX":20,"legendY":8,"direction":"horizontal","title":null,"labelFontSize":15,"labelLimit":0,"symbolSize":80,"symbolStrokeWidth":0,"columnPadding":8,"labelOffset":2}}}}
 ],"resolve":{"axis":{"x":"independent","y":"independent"}}},
 {"width":646,"height":104,"data":{"name":"E"},"layer":[
  {"data":{"name":"nu"},"mark":{"type":"rule","clip":true,"color":"#ff0000","strokeDash":[6,4],"strokeWidth":1.3},"encoding":{"x":{"field":"t","type":"quantitative","scale":{"domain":[58002,58050],"nice":false,"zero":false},"axis":{"orient":"bottom","values":[58003,58004,58005,58006,58007,58008,58009,58010,58011,58012,58013,58014,58015,58016,58017,58018,58019,58020,58021,58022,58023,58024,58025,58026,58027,58028,58029,58030,58031,58032,58033,58034,58035,58036,58037,58038,58039,58040,58041,58042,58043,58044,58045,58046,58047,58048,58049],"tickSize":-3,"labels":false,"title":null}}}},
  {"transform":[{"filter":"isValid(datum.lo)"}],"mark":{"type":"rule","clip":true,"strokeWidth":1.2},"encoding":{"x":{"field":"t","type":"quantitative","scale":{"domain":[58002,58050],"nice":false,"zero":false},"axis":{"orient":"bottom","values":[58010,58020,58030,58040,58050],"tickSize":-6,"labels":false,"title":null}},"y":{"field":"lo","type":"quantitative","scale":{"domain":[0,12],"nice":false,"zero":false},"axis":null},"y2":{"field":"hi"},"color":{"field":"s","type":"nominal","scale":{"domain":["ASAS-SN (V-band)","Kiso (g-band)","Kanata (R-band)"],"range":["#333333","#5a5aff","#ff0000"]},"legend":null}}},
  {"transform":[{"filter":"isValid(datum.lo)"}],"mark":{"type":"tick","clip":true,"orient":"horizontal","size":5,"thickness":1.2},"encoding":{"x":{"field":"t","type":"quantitative","scale":{"domain":[58002,58050],"nice":false,"zero":false},"axis":null},"y":{"field":"hi","type":"quantitative","scale":{"domain":[0,12],"nice":false,"zero":false},"axis":null},"color":{"field":"s","type":"nominal","scale":{"domain":["ASAS-SN (V-band)","Kiso (g-band)","Kanata (R-band)"],"range":["#333333","#5a5aff","#ff0000"]},"legend":null}}},
  {"transform":[{"filter":"isValid(datum.lo)"}],"mark":{"type":"tick","clip":true,"orient":"horizontal","size":5,"thickness":1.2},"encoding":{"x":{"field":"t","type":"quantitative","scale":{"domain":[58002,58050],"nice":false,"zero":false},"axis":null},"y":{"field":"lo","type":"quantitative","scale":{"domain":[0,12],"nice":false,"zero":false},"axis":null},"color":{"field":"s","type":"nominal","scale":{"domain":["ASAS-SN (V-band)","Kiso (g-band)","Kanata (R-band)"],"range":["#333333","#5a5aff","#ff0000"]},"legend":null}}},
  {"mark":{"type":"point","filled":true,"clip":true,"size":60,"opacity":1},"encoding":{"x":{"field":"t","type":"quantitative","scale":{"domain":[58002,58050],"nice":false,"zero":false},"axis":{"orient":"top","values":[58011,58027,58041],"tickSize":-7,"labels":false,"title":null}},"y":{"field":"f","type":"quantitative","scale":{"domain":[0,12],"nice":false,"zero":false},"axis":{"orient":"right","values":[0,3,6,9],"tickSize":-5,"labels":false,"title":null}},"color":{"field":"s","type":"nominal","scale":{"domain":["ASAS-SN (V-band)","Kiso (g-band)","Kanata (R-band)"],"range":["#333333","#5a5aff","#ff0000"]},"legend":null},"shape":{"field":"s","type":"nominal","scale":{"domain":["ASAS-SN (V-band)","Kiso (g-band)","Kanata (R-band)"],"range":["circle","square","triangle-up"]},"legend":null}}},
  {"data":{"values":[{"label":"E"}]},"mark":{"type":"text","align":"right","baseline":"middle","font":"Liberation Sans Narrow, DejaVu Sans Condensed","fontWeight":"bold","fontSize":30,"color":"#000000"},"encoding":{"x":{"datum":58048.74,"type":"quantitative","scale":{"domain":[58002,58050],"nice":false,"zero":false},"axis":null},"y":{"datum":9.69,"type":"quantitative","scale":{"domain":[0,12],"nice":false,"zero":false},"axis":null},"text":{"field":"label"}}}
 ],"resolve":{"axis":{"x":"independent","y":"independent"}}},
 {"width":643,"height":104,"data":{"name":"F"},"layer":[
  {"data":{"name":"nu"},"mark":{"type":"rule","clip":true,"color":"#ff0000","strokeDash":[6,4],"strokeWidth":1.3},"encoding":{"x":{"field":"t","type":"quantitative","scale":{"domain":[54700,58000],"nice":false,"zero":false},"axis":{"orient":"bottom","values":[54700,54800,54900,55000,55100,55200,55300,55400,55500,55600,55700,55800,55900,56000,56100,56200,56300,56400,56500,56600,56700,56800,56900,57000,57100,57200,57300,57400,57500,57600,57700,57800,57900,58000],"tickSize":-3,"labels":false,"title":null}}}},
  {"transform":[{"filter":"isValid(datum.lo)"}],"mark":{"type":"rule","clip":true,"strokeWidth":1.1,"color":"#333333"},"encoding":{"x":{"field":"t","type":"quantitative","scale":{"domain":[54700,58000],"nice":false,"zero":false},"axis":{"orient":"bottom","values":[55000,55500,56000,56500,57000,57500,58000],"tickSize":-6,"labelPadding":10,"format":"d","title":"Modified Julian Date","titlePadding":5}},"y":{"field":"lo","type":"quantitative","scale":{"domain":[0,10],"nice":false,"zero":false},"axis":null},"y2":{"field":"hi"}}},
  {"mark":{"type":"point","filled":true,"clip":true,"size":32,"opacity":1},"encoding":{"x":{"field":"t","type":"quantitative","scale":{"domain":[54700,58000],"nice":false,"zero":false},"axis":{"orient":"top","values":[54832,55197,55562,55927,56293,56658,57023,57388,57754],"tickSize":-6,"labels":false,"title":null}},"y":{"field":"f","type":"quantitative","scale":{"domain":[0,10],"nice":false,"zero":false},"axis":{"orient":"left","values":[0,2,4,6,8],"tickSize":-5,"labelPadding":11,"title":["Flux density","10⁻¹ Jy"],"titlePadding":10.5}},"color":{"field":"s","type":"nominal","scale":{"domain":["OVRO (15 GHz)","VLA (11 GHz)"],"range":["#333333","#ff0000"]},"legend":{"orient":"none","legendX":20,"legendY":8,"direction":"horizontal","title":null,"labelFontSize":15,"labelLimit":0,"symbolSize":80,"symbolStrokeWidth":0,"columnPadding":8,"labelOffset":2,"encode":{"labels":{"update":{"fill":{"signal":"indexof(['VERITAS (E>175 GeV)','AGILE (E>100 MeV)','Kiso (g-band)'], datum.value) >= 0 ? '#5a5aff' : (indexof(['HESS (E>175 GeV)','Kanata (R-band)','VLA (11 GHz)'], datum.value) >= 0 ? '#ff0000' : '#333333')"}}}}}},"shape":{"field":"s","type":"nominal","scale":{"domain":["OVRO (15 GHz)","VLA (11 GHz)"],"range":["circle","square"]},"legend":{"orient":"none","legendX":20,"legendY":8,"direction":"horizontal","title":null,"labelFontSize":15,"labelLimit":0,"symbolSize":80,"symbolStrokeWidth":0,"columnPadding":8,"labelOffset":2}}}}
 ],"resolve":{"axis":{"x":"independent","y":"independent"}}},
 {"width":646,"height":104,"data":{"name":"F"},"layer":[
  {"data":{"name":"nu"},"mark":{"type":"rule","clip":true,"color":"#ff0000","strokeDash":[6,4],"strokeWidth":1.3},"encoding":{"x":{"field":"t","type":"quantitative","scale":{"domain":[58002,58050],"nice":false,"zero":false},"axis":{"orient":"bottom","values":[58003,58004,58005,58006,58007,58008,58009,58010,58011,58012,58013,58014,58015,58016,58017,58018,58019,58020,58021,58022,58023,58024,58025,58026,58027,58028,58029,58030,58031,58032,58033,58034,58035,58036,58037,58038,58039,58040,58041,58042,58043,58044,58045,58046,58047,58048,58049],"tickSize":-3,"labels":false,"title":null}}}},
  {"transform":[{"filter":"isValid(datum.lo)"}],"mark":{"type":"rule","clip":true,"strokeWidth":1.1,"color":"#333333"},"encoding":{"x":{"field":"t","type":"quantitative","scale":{"domain":[58002,58050],"nice":false,"zero":false},"axis":{"orient":"bottom","values":[58010,58020,58030,58040,58050],"tickSize":-6,"labelPadding":10,"format":"d","title":"Modified Julian Date","titlePadding":5}},"y":{"field":"lo","type":"quantitative","scale":{"domain":[0,10],"nice":false,"zero":false},"axis":null},"y2":{"field":"hi"}}},
  {"mark":{"type":"point","filled":true,"clip":true,"size":60,"opacity":1},"encoding":{"x":{"field":"t","type":"quantitative","scale":{"domain":[58002,58050],"nice":false,"zero":false},"axis":{"orient":"top","values":[58011,58027,58041],"tickSize":-7,"labels":false,"title":null}},"y":{"field":"f","type":"quantitative","scale":{"domain":[0,10],"nice":false,"zero":false},"axis":{"orient":"right","values":[0,2,4,6,8],"tickSize":-5,"labels":false,"title":null}},"color":{"field":"s","type":"nominal","scale":{"domain":["OVRO (15 GHz)","VLA (11 GHz)"],"range":["#333333","#ff0000"]},"legend":null},"shape":{"field":"s","type":"nominal","scale":{"domain":["OVRO (15 GHz)","VLA (11 GHz)"],"range":["circle","square"]},"legend":null}}},
  {"data":{"values":[{"label":"F"}]},"mark":{"type":"text","align":"right","baseline":"middle","font":"Liberation Sans Narrow, DejaVu Sans Condensed","fontWeight":"bold","fontSize":30,"color":"#000000"},"encoding":{"x":{"datum":58048.74,"type":"quantitative","scale":{"domain":[58002,58050],"nice":false,"zero":false},"axis":null},"y":{"datum":8.08,"type":"quantitative","scale":{"domain":[0,10],"nice":false,"zero":false},"axis":null},"text":{"field":"label"}}}
 ],"resolve":{"axis":{"x":"independent","y":"independent"}}}
]
}
